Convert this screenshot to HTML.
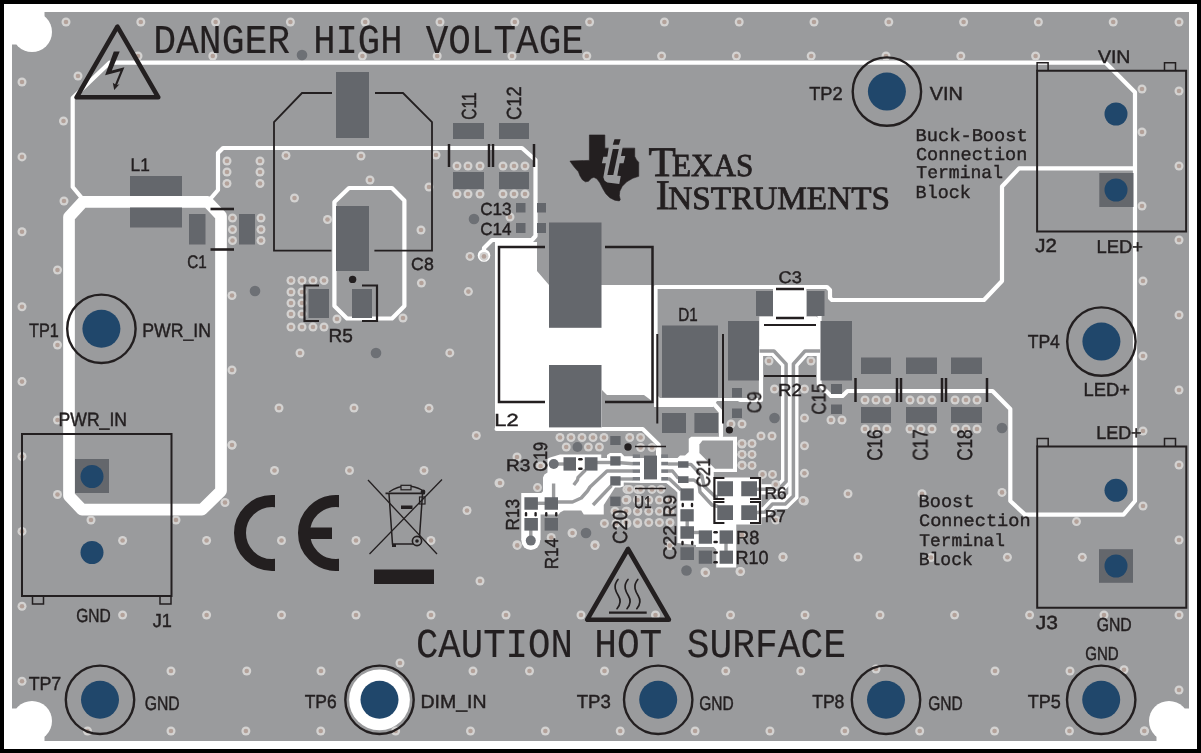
<!DOCTYPE html>
<html><head><meta charset="utf-8"><title>PCB layout</title>
<style>html,body{margin:0;padding:0;background:#fff;overflow:hidden}svg{display:block}text{will-change:opacity}</style>
</head><body>
<svg width="1201" height="753" viewBox="0 0 1201 753" text-rendering="geometricPrecision">
<rect x="0" y="0" width="1201" height="753" fill="#000"/>
<rect x="4" y="4" width="1193" height="745" fill="#fff"/>
<rect x="12" y="12" width="1177" height="729" fill="#9a9b9d"/>
<circle cx="32" cy="32" r="20" fill="#fff" stroke="none" stroke-width="0"/>
<circle cx="32" cy="721" r="20" fill="#fff" stroke="none" stroke-width="0"/>
<circle cx="1169" cy="721" r="20" fill="#fff" stroke="none" stroke-width="0"/>
<path d="M12 12 L44.5 12 L44.5 16.5 L16.5 44.5 L12 44.5 Z" fill="#fff" stroke="none" stroke-width="0" stroke-linejoin="miter" stroke-linecap="butt"/>
<path d="M12 741 L44.5 741 L44.5 736.5 L16.5 708.5 L12 708.5 Z" fill="#fff" stroke="none" stroke-width="0" stroke-linejoin="miter" stroke-linecap="butt"/>
<path d="M1189 741 L1156.5 741 L1156.5 736.5 L1184.5 708.5 L1189 708.5 Z" fill="#fff" stroke="none" stroke-width="0" stroke-linejoin="miter" stroke-linecap="butt"/>
<path d="M83 201.8 L207.5 201.8 L221 216 L221 491 L202 509.6 L82 509.6 L69 496 L69 217 Z" fill="none" stroke="#fff" stroke-width="11.7" stroke-linejoin="round" stroke-linecap="butt"/>
<path d="M81 197 L72.7 187 L72.7 98 L109.5 62.7 L1105.6 62.7 L1135 92.3 L1135 501 L1123.5 514.6 L1025 514.6 L1010.3 501 L1010.3 409 L992.5 391 L847.5 391 L842.5 396 L831 396 L824 389 L819.5 384 L819.5 316" fill="none" stroke="#fff" stroke-width="4.2" stroke-linejoin="round" stroke-linecap="round"/>
<path d="M1135 168.4 L1019 168.4 L1002 186.5 L1002 281 L984 300 L832 300 L830 298 L830 290 L827 287 L655.5 287 L655.5 402" fill="none" stroke="#fff" stroke-width="4.2" stroke-linejoin="round" stroke-linecap="round"/>
<path d="M212 197 L218 190 L218 153 L223 148 L522 148 L535.5 160 L535.5 236 L532 240 L492 240 L484 248 L484 255.5" fill="none" stroke="#fff" stroke-width="4.2" stroke-linejoin="round" stroke-linecap="round"/>
<circle cx="484" cy="255.5" r="6.3" fill="#fff" stroke="none" stroke-width="0"/>
<path d="M349 188 L392 188 L404.4 200.5 L404.4 306 L392 318.5 L347 318.5 L334.4 306 L334.4 202 Z" fill="none" stroke="#fff" stroke-width="4.2" stroke-linejoin="round" stroke-linecap="round"/>
<path d="M495 242 L537 242 L537 271 L549 285 L652 285 L652 401 L644 395 L607 395 L602 390 L602 429.5 L495 429.5 Z" fill="#fff" stroke="none" stroke-width="0" stroke-linejoin="miter" stroke-linecap="butt"/>
<path d="M496.5 429 L642.7 429 L658.8 444.7 L658.8 458" fill="none" stroke="#fff" stroke-width="4" stroke-linejoin="round" stroke-linecap="round"/>
<path d="M654 392 L660 398 L760 398 L760 401 L717 401 L713 407 L654 407 Z" fill="#fff" stroke="none" stroke-width="0" stroke-linejoin="miter" stroke-linecap="butt"/>
<path d="M714 404 L721 412 L721 436" fill="none" stroke="#fff" stroke-width="4.2" stroke-linejoin="round" stroke-linecap="round"/>
<path d="M773 288.5 L806.4 288.5 L806.4 316.6 L816.3 316.6 L820.3 320.6 L820.3 352 L759.25 352 L759.25 316.6 L773 316.6 Z" fill="#fff" stroke="none" stroke-width="0" stroke-linejoin="miter" stroke-linecap="butt"/>
<path d="M774 349 L805 349 L793 364.5 L786 364.5 Z" fill="#fff" stroke="none" stroke-width="0" stroke-linejoin="miter" stroke-linecap="butt"/>
<path d="M759.5 351 L774 351 L786.1 364 L786.1 481.5 L778.5 489.3 L757 489.3" fill="none" stroke="#fff" stroke-width="10.2" stroke-linejoin="miter" stroke-linecap="butt"/>
<path d="M820 351 L805 351 L793.4 364 L793.4 496 L785.3 504 L772.5 504 L765 512 L757 512.5" fill="none" stroke="#fff" stroke-width="10.2" stroke-linejoin="miter" stroke-linecap="butt"/>
<path d="M740 400 L761 400 L761 352" fill="none" stroke="#fff" stroke-width="4.2" stroke-linejoin="round" stroke-linecap="round"/>
<path d="M818.8 352 L818.8 384" fill="none" stroke="#fff" stroke-width="4.2" stroke-linejoin="round" stroke-linecap="round"/>
<path d="M550 457.5 L560 454.4 L601.25 454.4 L601.25 458 L607 458 L607 455 L610 453 L621.25 453 L624.4 456.25 L640.6 456.25 L643 458.75 L643.75 483 L623.75 482.5 L623.75 486.25 L620 487.5 L615 487.5 L603.75 505 L603.75 514.4 L583.75 514.4 L581.25 510.6 L563.75 510.6 L560 512.5 L558.75 514.4 L540.6 514.4 L540.6 540 L521.25 540 L521.25 493.1 L541.25 493.1 L543 491.25 L543 477.5 L544.4 474.4 L547.5 472.5 L547.5 458.75 Z" fill="#fff" stroke="none" stroke-width="0" stroke-linejoin="miter" stroke-linecap="butt"/>
<circle cx="530.8" cy="540.6" r="9.4" fill="#fff" stroke="none" stroke-width="0"/>
<rect x="640" y="447.5" width="21.25" height="35.5" fill="#fff"/>
<rect x="640" y="445" width="16" height="13" fill="#9a9b9d"/>
<path d="M661.25 458 L677.5 458 L680 455.6 L685 455.6 L688.75 452 L688.75 438.75 L691.25 436.75 L737 436.75 L737 472 L713.75 472 L713.75 477.5 L761.5 477.5 L761.5 524.4 L736.25 524.4 L736.25 567.5 L716.25 567.5 L716.25 549.4 L713.75 547 L696 547 L696 545 L677.4 543 L677.4 492.5 L675 490 L666.25 483 L657.25 483 Z" fill="#fff" stroke="none" stroke-width="0" stroke-linejoin="miter" stroke-linecap="butt"/>
<path d="M699.4 444.4 L702.5 440.6 L733 440.6 L733 468.75 L715 468.75 L699.4 453 Z" fill="#9a9b9d" stroke="none" stroke-width="0" stroke-linejoin="miter" stroke-linecap="butt"/>
<path d="M759.5 351 L774 351 L786.1 364 L786.1 481.5 L778.5 489.3 L757 489.3" fill="none" stroke="#9a9b9d" stroke-width="3.5" stroke-linejoin="round" stroke-linecap="butt"/>
<path d="M820 351 L805 351 L793.4 364 L793.4 496 L785.3 504 L772.5 504 L765 512 L757 512.5" fill="none" stroke="#9a9b9d" stroke-width="3.5" stroke-linejoin="round" stroke-linecap="butt"/>
<path d="M553 464 L564 464" fill="none" stroke="#9a9b9d" stroke-width="3.4" stroke-linejoin="round" stroke-linecap="butt"/>
<path d="M597 462.5 L611 462.5" fill="none" stroke="#9a9b9d" stroke-width="3.4" stroke-linejoin="round" stroke-linecap="butt"/>
<path d="M620 462.8 L633 463.8" fill="none" stroke="#9a9b9d" stroke-width="3.4" stroke-linejoin="round" stroke-linecap="butt"/>
<path d="M585.5 470 L578 477.5 L577.5 480 L573.75 485" fill="none" stroke="#9a9b9d" stroke-width="3.4" stroke-linejoin="round" stroke-linecap="butt"/>
<path d="M633 471 L607 471 L590 487 L587.5 491 L581.25 498 L572.5 502 L557 502" fill="none" stroke="#9a9b9d" stroke-width="3.4" stroke-linejoin="round" stroke-linecap="butt"/>
<path d="M620 479 L633 479" fill="none" stroke="#9a9b9d" stroke-width="3.4" stroke-linejoin="round" stroke-linecap="butt"/>
<path d="M611.5 485.5 L593 505" fill="none" stroke="#9a9b9d" stroke-width="3.4" stroke-linejoin="round" stroke-linecap="butt"/>
<path d="M553.6 483.5 L553.6 498" fill="none" stroke="#9a9b9d" stroke-width="3.4" stroke-linejoin="round" stroke-linecap="butt"/>
<path d="M537 503.3 L545 503.3" fill="none" stroke="#9a9b9d" stroke-width="3.4" stroke-linejoin="round" stroke-linecap="butt"/>
<path d="M530.8 530 L530.8 538" fill="none" stroke="#9a9b9d" stroke-width="3.4" stroke-linejoin="round" stroke-linecap="butt"/>
<path d="M668 464 L678 464" fill="none" stroke="#9a9b9d" stroke-width="3.4" stroke-linejoin="round" stroke-linecap="butt"/>
<path d="M668 471 L672.5 471 L678.5 478.5" fill="none" stroke="#9a9b9d" stroke-width="3.4" stroke-linejoin="round" stroke-linecap="butt"/>
<path d="M668 479 L669.5 479 L681 490" fill="none" stroke="#9a9b9d" stroke-width="3.4" stroke-linejoin="round" stroke-linecap="butt"/>
<path d="M688 464.4 L691 464.4 L702 476 L704 486 L715 496.5 L718 496.5" fill="none" stroke="#9a9b9d" stroke-width="3.4" stroke-linejoin="round" stroke-linecap="butt"/>
<path d="M688 480 L694 480 L699 484 L700 492 L712 505 L718 506.5" fill="none" stroke="#9a9b9d" stroke-width="3.4" stroke-linejoin="round" stroke-linecap="butt"/>
<path d="M687.2 521 L687.2 527" fill="none" stroke="#9a9b9d" stroke-width="3.4" stroke-linejoin="round" stroke-linecap="butt"/>
<path d="M693.5 532.5 L699 532.5" fill="none" stroke="#9a9b9d" stroke-width="3.4" stroke-linejoin="round" stroke-linecap="butt"/>
<path d="M726 543 L726 551" fill="none" stroke="#9a9b9d" stroke-width="3.4" stroke-linejoin="round" stroke-linecap="butt"/>
<circle cx="66" cy="22" r="4.5" fill="#d3d2d1" stroke="none" stroke-width="0"/>
<circle cx="66" cy="22" r="2.3" fill="#b3a199" stroke="none" stroke-width="0"/>
<circle cx="140.8" cy="22" r="4.5" fill="#d3d2d1" stroke="none" stroke-width="0"/>
<circle cx="140.8" cy="22" r="2.3" fill="#b3a199" stroke="none" stroke-width="0"/>
<circle cx="215.6" cy="22" r="4.5" fill="#d3d2d1" stroke="none" stroke-width="0"/>
<circle cx="215.6" cy="22" r="2.3" fill="#b3a199" stroke="none" stroke-width="0"/>
<circle cx="290.4" cy="22" r="4.5" fill="#d3d2d1" stroke="none" stroke-width="0"/>
<circle cx="290.4" cy="22" r="2.3" fill="#b3a199" stroke="none" stroke-width="0"/>
<circle cx="365.2" cy="22" r="4.5" fill="#d3d2d1" stroke="none" stroke-width="0"/>
<circle cx="365.2" cy="22" r="2.3" fill="#b3a199" stroke="none" stroke-width="0"/>
<circle cx="440" cy="22" r="4.5" fill="#d3d2d1" stroke="none" stroke-width="0"/>
<circle cx="440" cy="22" r="2.3" fill="#b3a199" stroke="none" stroke-width="0"/>
<circle cx="514.8" cy="22" r="4.5" fill="#d3d2d1" stroke="none" stroke-width="0"/>
<circle cx="514.8" cy="22" r="2.3" fill="#b3a199" stroke="none" stroke-width="0"/>
<circle cx="589.6" cy="22" r="4.5" fill="#d3d2d1" stroke="none" stroke-width="0"/>
<circle cx="589.6" cy="22" r="2.3" fill="#b3a199" stroke="none" stroke-width="0"/>
<circle cx="664.4" cy="22" r="4.5" fill="#d3d2d1" stroke="none" stroke-width="0"/>
<circle cx="664.4" cy="22" r="2.3" fill="#b3a199" stroke="none" stroke-width="0"/>
<circle cx="739.2" cy="22" r="4.5" fill="#d3d2d1" stroke="none" stroke-width="0"/>
<circle cx="739.2" cy="22" r="2.3" fill="#b3a199" stroke="none" stroke-width="0"/>
<circle cx="814" cy="22" r="4.5" fill="#d3d2d1" stroke="none" stroke-width="0"/>
<circle cx="814" cy="22" r="2.3" fill="#b3a199" stroke="none" stroke-width="0"/>
<circle cx="888.8" cy="22" r="4.5" fill="#d3d2d1" stroke="none" stroke-width="0"/>
<circle cx="888.8" cy="22" r="2.3" fill="#b3a199" stroke="none" stroke-width="0"/>
<circle cx="963.6" cy="22" r="4.5" fill="#d3d2d1" stroke="none" stroke-width="0"/>
<circle cx="963.6" cy="22" r="2.3" fill="#b3a199" stroke="none" stroke-width="0"/>
<circle cx="1038.4" cy="22" r="4.5" fill="#d3d2d1" stroke="none" stroke-width="0"/>
<circle cx="1038.4" cy="22" r="2.3" fill="#b3a199" stroke="none" stroke-width="0"/>
<circle cx="1113.2" cy="22" r="4.5" fill="#d3d2d1" stroke="none" stroke-width="0"/>
<circle cx="1113.2" cy="22" r="2.3" fill="#b3a199" stroke="none" stroke-width="0"/>
<circle cx="1179" cy="22" r="4.5" fill="#d3d2d1" stroke="none" stroke-width="0"/>
<circle cx="1179" cy="22" r="2.3" fill="#b3a199" stroke="none" stroke-width="0"/>
<circle cx="138" cy="56" r="4.5" fill="#d3d2d1" stroke="none" stroke-width="0"/>
<circle cx="138" cy="56" r="2.3" fill="#b3a199" stroke="none" stroke-width="0"/>
<circle cx="212.8" cy="56" r="4.5" fill="#d3d2d1" stroke="none" stroke-width="0"/>
<circle cx="212.8" cy="56" r="2.3" fill="#b3a199" stroke="none" stroke-width="0"/>
<circle cx="362.4" cy="56" r="4.5" fill="#d3d2d1" stroke="none" stroke-width="0"/>
<circle cx="362.4" cy="56" r="2.3" fill="#b3a199" stroke="none" stroke-width="0"/>
<circle cx="437.2" cy="56" r="4.5" fill="#d3d2d1" stroke="none" stroke-width="0"/>
<circle cx="437.2" cy="56" r="2.3" fill="#b3a199" stroke="none" stroke-width="0"/>
<circle cx="512" cy="56" r="4.5" fill="#d3d2d1" stroke="none" stroke-width="0"/>
<circle cx="512" cy="56" r="2.3" fill="#b3a199" stroke="none" stroke-width="0"/>
<circle cx="586.8" cy="56" r="4.5" fill="#d3d2d1" stroke="none" stroke-width="0"/>
<circle cx="586.8" cy="56" r="2.3" fill="#b3a199" stroke="none" stroke-width="0"/>
<circle cx="661.6" cy="56" r="4.5" fill="#d3d2d1" stroke="none" stroke-width="0"/>
<circle cx="661.6" cy="56" r="2.3" fill="#b3a199" stroke="none" stroke-width="0"/>
<circle cx="736.4" cy="56" r="4.5" fill="#d3d2d1" stroke="none" stroke-width="0"/>
<circle cx="736.4" cy="56" r="2.3" fill="#b3a199" stroke="none" stroke-width="0"/>
<circle cx="811.2" cy="56" r="4.5" fill="#d3d2d1" stroke="none" stroke-width="0"/>
<circle cx="811.2" cy="56" r="2.3" fill="#b3a199" stroke="none" stroke-width="0"/>
<circle cx="886" cy="56" r="4.5" fill="#d3d2d1" stroke="none" stroke-width="0"/>
<circle cx="886" cy="56" r="2.3" fill="#b3a199" stroke="none" stroke-width="0"/>
<circle cx="960.8" cy="56" r="4.5" fill="#d3d2d1" stroke="none" stroke-width="0"/>
<circle cx="960.8" cy="56" r="2.3" fill="#b3a199" stroke="none" stroke-width="0"/>
<circle cx="1035.6" cy="56" r="4.5" fill="#d3d2d1" stroke="none" stroke-width="0"/>
<circle cx="1035.6" cy="56" r="2.3" fill="#b3a199" stroke="none" stroke-width="0"/>
<circle cx="22" cy="82" r="4.5" fill="#d3d2d1" stroke="none" stroke-width="0"/>
<circle cx="22" cy="82" r="2.3" fill="#b3a199" stroke="none" stroke-width="0"/>
<circle cx="22" cy="156.9" r="4.5" fill="#d3d2d1" stroke="none" stroke-width="0"/>
<circle cx="22" cy="156.9" r="2.3" fill="#b3a199" stroke="none" stroke-width="0"/>
<circle cx="22" cy="231.8" r="4.5" fill="#d3d2d1" stroke="none" stroke-width="0"/>
<circle cx="22" cy="231.8" r="2.3" fill="#b3a199" stroke="none" stroke-width="0"/>
<circle cx="22" cy="306.7" r="4.5" fill="#d3d2d1" stroke="none" stroke-width="0"/>
<circle cx="22" cy="306.7" r="2.3" fill="#b3a199" stroke="none" stroke-width="0"/>
<circle cx="22" cy="381.6" r="4.5" fill="#d3d2d1" stroke="none" stroke-width="0"/>
<circle cx="22" cy="381.6" r="2.3" fill="#b3a199" stroke="none" stroke-width="0"/>
<circle cx="22" cy="456.5" r="4.5" fill="#d3d2d1" stroke="none" stroke-width="0"/>
<circle cx="22" cy="456.5" r="2.3" fill="#b3a199" stroke="none" stroke-width="0"/>
<circle cx="22" cy="531.4" r="4.5" fill="#d3d2d1" stroke="none" stroke-width="0"/>
<circle cx="22" cy="531.4" r="2.3" fill="#b3a199" stroke="none" stroke-width="0"/>
<circle cx="22" cy="606.3" r="4.5" fill="#d3d2d1" stroke="none" stroke-width="0"/>
<circle cx="22" cy="606.3" r="2.3" fill="#b3a199" stroke="none" stroke-width="0"/>
<circle cx="22" cy="681.2" r="4.5" fill="#d3d2d1" stroke="none" stroke-width="0"/>
<circle cx="22" cy="681.2" r="2.3" fill="#b3a199" stroke="none" stroke-width="0"/>
<circle cx="63.5" cy="121" r="4.5" fill="#d3d2d1" stroke="none" stroke-width="0"/>
<circle cx="63.5" cy="121" r="2.3" fill="#b3a199" stroke="none" stroke-width="0"/>
<circle cx="64" cy="201" r="4.5" fill="#d3d2d1" stroke="none" stroke-width="0"/>
<circle cx="64" cy="201" r="2.3" fill="#b3a199" stroke="none" stroke-width="0"/>
<circle cx="78" cy="76" r="4.5" fill="#d3d2d1" stroke="none" stroke-width="0"/>
<circle cx="78" cy="76" r="2.3" fill="#b3a199" stroke="none" stroke-width="0"/>
<circle cx="57.5" cy="270" r="4.5" fill="#d3d2d1" stroke="none" stroke-width="0"/>
<circle cx="57.5" cy="270" r="2.3" fill="#b3a199" stroke="none" stroke-width="0"/>
<circle cx="57.5" cy="345" r="4.5" fill="#d3d2d1" stroke="none" stroke-width="0"/>
<circle cx="57.5" cy="345" r="2.3" fill="#b3a199" stroke="none" stroke-width="0"/>
<circle cx="57.5" cy="420" r="4.5" fill="#d3d2d1" stroke="none" stroke-width="0"/>
<circle cx="57.5" cy="420" r="2.3" fill="#b3a199" stroke="none" stroke-width="0"/>
<circle cx="57.5" cy="494.5" r="4.5" fill="#d3d2d1" stroke="none" stroke-width="0"/>
<circle cx="57.5" cy="494.5" r="2.3" fill="#b3a199" stroke="none" stroke-width="0"/>
<circle cx="227" cy="161" r="4.5" fill="#d3d2d1" stroke="none" stroke-width="0"/>
<circle cx="227" cy="161" r="2.3" fill="#b3a199" stroke="none" stroke-width="0"/>
<circle cx="227" cy="172" r="4.5" fill="#d3d2d1" stroke="none" stroke-width="0"/>
<circle cx="227" cy="172" r="2.3" fill="#b3a199" stroke="none" stroke-width="0"/>
<circle cx="227" cy="183.5" r="4.5" fill="#d3d2d1" stroke="none" stroke-width="0"/>
<circle cx="227" cy="183.5" r="2.3" fill="#b3a199" stroke="none" stroke-width="0"/>
<circle cx="260" cy="161" r="4.5" fill="#d3d2d1" stroke="none" stroke-width="0"/>
<circle cx="260" cy="161" r="2.3" fill="#b3a199" stroke="none" stroke-width="0"/>
<circle cx="260" cy="172" r="4.5" fill="#d3d2d1" stroke="none" stroke-width="0"/>
<circle cx="260" cy="172" r="2.3" fill="#b3a199" stroke="none" stroke-width="0"/>
<circle cx="260" cy="183.5" r="4.5" fill="#d3d2d1" stroke="none" stroke-width="0"/>
<circle cx="260" cy="183.5" r="2.3" fill="#b3a199" stroke="none" stroke-width="0"/>
<circle cx="286" cy="155.5" r="4.5" fill="#d3d2d1" stroke="none" stroke-width="0"/>
<circle cx="286" cy="155.5" r="2.3" fill="#b3a199" stroke="none" stroke-width="0"/>
<circle cx="361" cy="156" r="4.5" fill="#d3d2d1" stroke="none" stroke-width="0"/>
<circle cx="361" cy="156" r="2.3" fill="#b3a199" stroke="none" stroke-width="0"/>
<circle cx="370" cy="180" r="4.5" fill="#d3d2d1" stroke="none" stroke-width="0"/>
<circle cx="370" cy="180" r="2.3" fill="#b3a199" stroke="none" stroke-width="0"/>
<circle cx="294.5" cy="198" r="4.5" fill="#d3d2d1" stroke="none" stroke-width="0"/>
<circle cx="294.5" cy="198" r="2.3" fill="#b3a199" stroke="none" stroke-width="0"/>
<circle cx="327.5" cy="219.5" r="4.5" fill="#d3d2d1" stroke="none" stroke-width="0"/>
<circle cx="327.5" cy="219.5" r="2.3" fill="#b3a199" stroke="none" stroke-width="0"/>
<circle cx="232.5" cy="218" r="4.5" fill="#d3d2d1" stroke="none" stroke-width="0"/>
<circle cx="232.5" cy="218" r="2.3" fill="#b3a199" stroke="none" stroke-width="0"/>
<circle cx="232.5" cy="229.5" r="4.5" fill="#d3d2d1" stroke="none" stroke-width="0"/>
<circle cx="232.5" cy="229.5" r="2.3" fill="#b3a199" stroke="none" stroke-width="0"/>
<circle cx="232.5" cy="240.5" r="4.5" fill="#d3d2d1" stroke="none" stroke-width="0"/>
<circle cx="232.5" cy="240.5" r="2.3" fill="#b3a199" stroke="none" stroke-width="0"/>
<circle cx="261" cy="218" r="4.5" fill="#d3d2d1" stroke="none" stroke-width="0"/>
<circle cx="261" cy="218" r="2.3" fill="#b3a199" stroke="none" stroke-width="0"/>
<circle cx="261" cy="229.5" r="4.5" fill="#d3d2d1" stroke="none" stroke-width="0"/>
<circle cx="261" cy="229.5" r="2.3" fill="#b3a199" stroke="none" stroke-width="0"/>
<circle cx="261" cy="240.5" r="4.5" fill="#d3d2d1" stroke="none" stroke-width="0"/>
<circle cx="261" cy="240.5" r="2.3" fill="#b3a199" stroke="none" stroke-width="0"/>
<circle cx="232" cy="295.5" r="4.5" fill="#d3d2d1" stroke="none" stroke-width="0"/>
<circle cx="232" cy="295.5" r="2.3" fill="#b3a199" stroke="none" stroke-width="0"/>
<circle cx="232" cy="370" r="4.5" fill="#d3d2d1" stroke="none" stroke-width="0"/>
<circle cx="232" cy="370" r="2.3" fill="#b3a199" stroke="none" stroke-width="0"/>
<circle cx="232" cy="445" r="4.5" fill="#d3d2d1" stroke="none" stroke-width="0"/>
<circle cx="232" cy="445" r="2.3" fill="#b3a199" stroke="none" stroke-width="0"/>
<circle cx="300" cy="353" r="4.5" fill="#d3d2d1" stroke="none" stroke-width="0"/>
<circle cx="300" cy="353" r="2.3" fill="#b3a199" stroke="none" stroke-width="0"/>
<circle cx="279" cy="408" r="4.5" fill="#d3d2d1" stroke="none" stroke-width="0"/>
<circle cx="279" cy="408" r="2.3" fill="#b3a199" stroke="none" stroke-width="0"/>
<circle cx="354" cy="408" r="4.5" fill="#d3d2d1" stroke="none" stroke-width="0"/>
<circle cx="354" cy="408" r="2.3" fill="#b3a199" stroke="none" stroke-width="0"/>
<circle cx="274.5" cy="470.5" r="4.5" fill="#d3d2d1" stroke="none" stroke-width="0"/>
<circle cx="274.5" cy="470.5" r="2.3" fill="#b3a199" stroke="none" stroke-width="0"/>
<circle cx="349.5" cy="470.5" r="4.5" fill="#d3d2d1" stroke="none" stroke-width="0"/>
<circle cx="349.5" cy="470.5" r="2.3" fill="#b3a199" stroke="none" stroke-width="0"/>
<circle cx="424" cy="470.5" r="4.5" fill="#d3d2d1" stroke="none" stroke-width="0"/>
<circle cx="424" cy="470.5" r="2.3" fill="#b3a199" stroke="none" stroke-width="0"/>
<circle cx="291" cy="280.5" r="4.5" fill="#d3d2d1" stroke="none" stroke-width="0"/>
<circle cx="291" cy="280.5" r="2.3" fill="#b3a199" stroke="none" stroke-width="0"/>
<circle cx="302" cy="280.5" r="4.5" fill="#d3d2d1" stroke="none" stroke-width="0"/>
<circle cx="302" cy="280.5" r="2.3" fill="#b3a199" stroke="none" stroke-width="0"/>
<circle cx="313" cy="280.5" r="4.5" fill="#d3d2d1" stroke="none" stroke-width="0"/>
<circle cx="313" cy="280.5" r="2.3" fill="#b3a199" stroke="none" stroke-width="0"/>
<circle cx="324" cy="280.5" r="4.5" fill="#d3d2d1" stroke="none" stroke-width="0"/>
<circle cx="324" cy="280.5" r="2.3" fill="#b3a199" stroke="none" stroke-width="0"/>
<circle cx="291" cy="292" r="4.5" fill="#d3d2d1" stroke="none" stroke-width="0"/>
<circle cx="291" cy="292" r="2.3" fill="#b3a199" stroke="none" stroke-width="0"/>
<circle cx="302" cy="292" r="4.5" fill="#d3d2d1" stroke="none" stroke-width="0"/>
<circle cx="302" cy="292" r="2.3" fill="#b3a199" stroke="none" stroke-width="0"/>
<circle cx="291" cy="303" r="4.5" fill="#d3d2d1" stroke="none" stroke-width="0"/>
<circle cx="291" cy="303" r="2.3" fill="#b3a199" stroke="none" stroke-width="0"/>
<circle cx="302" cy="303" r="4.5" fill="#d3d2d1" stroke="none" stroke-width="0"/>
<circle cx="302" cy="303" r="2.3" fill="#b3a199" stroke="none" stroke-width="0"/>
<circle cx="291" cy="314" r="4.5" fill="#d3d2d1" stroke="none" stroke-width="0"/>
<circle cx="291" cy="314" r="2.3" fill="#b3a199" stroke="none" stroke-width="0"/>
<circle cx="302" cy="314" r="4.5" fill="#d3d2d1" stroke="none" stroke-width="0"/>
<circle cx="302" cy="314" r="2.3" fill="#b3a199" stroke="none" stroke-width="0"/>
<circle cx="291" cy="327" r="4.5" fill="#d3d2d1" stroke="none" stroke-width="0"/>
<circle cx="291" cy="327" r="2.3" fill="#b3a199" stroke="none" stroke-width="0"/>
<circle cx="302" cy="327" r="4.5" fill="#d3d2d1" stroke="none" stroke-width="0"/>
<circle cx="302" cy="327" r="2.3" fill="#b3a199" stroke="none" stroke-width="0"/>
<circle cx="313" cy="327" r="4.5" fill="#d3d2d1" stroke="none" stroke-width="0"/>
<circle cx="313" cy="327" r="2.3" fill="#b3a199" stroke="none" stroke-width="0"/>
<circle cx="324" cy="327" r="4.5" fill="#d3d2d1" stroke="none" stroke-width="0"/>
<circle cx="324" cy="327" r="2.3" fill="#b3a199" stroke="none" stroke-width="0"/>
<circle cx="337" cy="319" r="4.5" fill="#d3d2d1" stroke="none" stroke-width="0"/>
<circle cx="337" cy="319" r="2.3" fill="#b3a199" stroke="none" stroke-width="0"/>
<circle cx="457" cy="166" r="4.5" fill="#d3d2d1" stroke="none" stroke-width="0"/>
<circle cx="457" cy="166" r="2.3" fill="#b3a199" stroke="none" stroke-width="0"/>
<circle cx="468" cy="166" r="4.5" fill="#d3d2d1" stroke="none" stroke-width="0"/>
<circle cx="468" cy="166" r="2.3" fill="#b3a199" stroke="none" stroke-width="0"/>
<circle cx="480" cy="166" r="4.5" fill="#d3d2d1" stroke="none" stroke-width="0"/>
<circle cx="480" cy="166" r="2.3" fill="#b3a199" stroke="none" stroke-width="0"/>
<circle cx="503" cy="166" r="4.5" fill="#d3d2d1" stroke="none" stroke-width="0"/>
<circle cx="503" cy="166" r="2.3" fill="#b3a199" stroke="none" stroke-width="0"/>
<circle cx="514" cy="166" r="4.5" fill="#d3d2d1" stroke="none" stroke-width="0"/>
<circle cx="514" cy="166" r="2.3" fill="#b3a199" stroke="none" stroke-width="0"/>
<circle cx="525" cy="166" r="4.5" fill="#d3d2d1" stroke="none" stroke-width="0"/>
<circle cx="525" cy="166" r="2.3" fill="#b3a199" stroke="none" stroke-width="0"/>
<circle cx="457" cy="194" r="4.5" fill="#d3d2d1" stroke="none" stroke-width="0"/>
<circle cx="457" cy="194" r="2.3" fill="#b3a199" stroke="none" stroke-width="0"/>
<circle cx="468" cy="194" r="4.5" fill="#d3d2d1" stroke="none" stroke-width="0"/>
<circle cx="468" cy="194" r="2.3" fill="#b3a199" stroke="none" stroke-width="0"/>
<circle cx="480" cy="194" r="4.5" fill="#d3d2d1" stroke="none" stroke-width="0"/>
<circle cx="480" cy="194" r="2.3" fill="#b3a199" stroke="none" stroke-width="0"/>
<circle cx="503" cy="194" r="4.5" fill="#d3d2d1" stroke="none" stroke-width="0"/>
<circle cx="503" cy="194" r="2.3" fill="#b3a199" stroke="none" stroke-width="0"/>
<circle cx="514" cy="194" r="4.5" fill="#d3d2d1" stroke="none" stroke-width="0"/>
<circle cx="514" cy="194" r="2.3" fill="#b3a199" stroke="none" stroke-width="0"/>
<circle cx="525" cy="194" r="4.5" fill="#d3d2d1" stroke="none" stroke-width="0"/>
<circle cx="525" cy="194" r="2.3" fill="#b3a199" stroke="none" stroke-width="0"/>
<circle cx="436" cy="155" r="4.5" fill="#d3d2d1" stroke="none" stroke-width="0"/>
<circle cx="436" cy="155" r="2.3" fill="#b3a199" stroke="none" stroke-width="0"/>
<circle cx="429" cy="187" r="4.5" fill="#d3d2d1" stroke="none" stroke-width="0"/>
<circle cx="429" cy="187" r="2.3" fill="#b3a199" stroke="none" stroke-width="0"/>
<circle cx="421" cy="230" r="4.5" fill="#d3d2d1" stroke="none" stroke-width="0"/>
<circle cx="421" cy="230" r="2.3" fill="#b3a199" stroke="none" stroke-width="0"/>
<circle cx="510" cy="217" r="4.5" fill="#d3d2d1" stroke="none" stroke-width="0"/>
<circle cx="510" cy="217" r="2.3" fill="#b3a199" stroke="none" stroke-width="0"/>
<circle cx="1142" cy="89" r="4.5" fill="#d3d2d1" stroke="none" stroke-width="0"/>
<circle cx="1142" cy="89" r="2.3" fill="#b3a199" stroke="none" stroke-width="0"/>
<circle cx="1179" cy="91" r="4.5" fill="#d3d2d1" stroke="none" stroke-width="0"/>
<circle cx="1179" cy="91" r="2.3" fill="#b3a199" stroke="none" stroke-width="0"/>
<circle cx="1142" cy="132" r="4.5" fill="#d3d2d1" stroke="none" stroke-width="0"/>
<circle cx="1142" cy="132" r="2.3" fill="#b3a199" stroke="none" stroke-width="0"/>
<circle cx="1179" cy="166" r="4.5" fill="#d3d2d1" stroke="none" stroke-width="0"/>
<circle cx="1179" cy="166" r="2.3" fill="#b3a199" stroke="none" stroke-width="0"/>
<circle cx="1142" cy="206" r="4.5" fill="#d3d2d1" stroke="none" stroke-width="0"/>
<circle cx="1142" cy="206" r="2.3" fill="#b3a199" stroke="none" stroke-width="0"/>
<circle cx="1179" cy="240" r="4.5" fill="#d3d2d1" stroke="none" stroke-width="0"/>
<circle cx="1179" cy="240" r="2.3" fill="#b3a199" stroke="none" stroke-width="0"/>
<circle cx="1143" cy="281" r="4.5" fill="#d3d2d1" stroke="none" stroke-width="0"/>
<circle cx="1143" cy="281" r="2.3" fill="#b3a199" stroke="none" stroke-width="0"/>
<circle cx="1179" cy="315" r="4.5" fill="#d3d2d1" stroke="none" stroke-width="0"/>
<circle cx="1179" cy="315" r="2.3" fill="#b3a199" stroke="none" stroke-width="0"/>
<circle cx="1143" cy="356" r="4.5" fill="#d3d2d1" stroke="none" stroke-width="0"/>
<circle cx="1143" cy="356" r="2.3" fill="#b3a199" stroke="none" stroke-width="0"/>
<circle cx="1179" cy="390" r="4.5" fill="#d3d2d1" stroke="none" stroke-width="0"/>
<circle cx="1179" cy="390" r="2.3" fill="#b3a199" stroke="none" stroke-width="0"/>
<circle cx="1143" cy="431" r="4.5" fill="#d3d2d1" stroke="none" stroke-width="0"/>
<circle cx="1143" cy="431" r="2.3" fill="#b3a199" stroke="none" stroke-width="0"/>
<circle cx="1179" cy="465" r="4.5" fill="#d3d2d1" stroke="none" stroke-width="0"/>
<circle cx="1179" cy="465" r="2.3" fill="#b3a199" stroke="none" stroke-width="0"/>
<circle cx="1143" cy="506" r="4.5" fill="#d3d2d1" stroke="none" stroke-width="0"/>
<circle cx="1143" cy="506" r="2.3" fill="#b3a199" stroke="none" stroke-width="0"/>
<circle cx="1179" cy="540" r="4.5" fill="#d3d2d1" stroke="none" stroke-width="0"/>
<circle cx="1179" cy="540" r="2.3" fill="#b3a199" stroke="none" stroke-width="0"/>
<circle cx="1179" cy="615" r="4.5" fill="#d3d2d1" stroke="none" stroke-width="0"/>
<circle cx="1179" cy="615" r="2.3" fill="#b3a199" stroke="none" stroke-width="0"/>
<circle cx="1179" cy="690" r="4.5" fill="#d3d2d1" stroke="none" stroke-width="0"/>
<circle cx="1179" cy="690" r="2.3" fill="#b3a199" stroke="none" stroke-width="0"/>
<circle cx="1144.5" cy="731" r="4.5" fill="#d3d2d1" stroke="none" stroke-width="0"/>
<circle cx="1144.5" cy="731" r="2.3" fill="#b3a199" stroke="none" stroke-width="0"/>
<circle cx="449.8" cy="352.9" r="4.5" fill="#d3d2d1" stroke="none" stroke-width="0"/>
<circle cx="449.8" cy="352.9" r="2.3" fill="#b3a199" stroke="none" stroke-width="0"/>
<circle cx="429" cy="408.2" r="4.5" fill="#d3d2d1" stroke="none" stroke-width="0"/>
<circle cx="429" cy="408.2" r="2.3" fill="#b3a199" stroke="none" stroke-width="0"/>
<circle cx="476.3" cy="435.5" r="4.5" fill="#d3d2d1" stroke="none" stroke-width="0"/>
<circle cx="476.3" cy="435.5" r="2.3" fill="#b3a199" stroke="none" stroke-width="0"/>
<circle cx="804.5" cy="445.75" r="4.5" fill="#d3d2d1" stroke="none" stroke-width="0"/>
<circle cx="804.5" cy="445.75" r="2.3" fill="#b3a199" stroke="none" stroke-width="0"/>
<circle cx="848" cy="493.75" r="4.5" fill="#d3d2d1" stroke="none" stroke-width="0"/>
<circle cx="848" cy="493.75" r="2.3" fill="#b3a199" stroke="none" stroke-width="0"/>
<circle cx="922" cy="493.75" r="4.5" fill="#d3d2d1" stroke="none" stroke-width="0"/>
<circle cx="922" cy="493.75" r="2.3" fill="#b3a199" stroke="none" stroke-width="0"/>
<circle cx="931" cy="557.5" r="4.5" fill="#d3d2d1" stroke="none" stroke-width="0"/>
<circle cx="931" cy="557.5" r="2.3" fill="#b3a199" stroke="none" stroke-width="0"/>
<circle cx="421.4" cy="283" r="4.5" fill="#d3d2d1" stroke="none" stroke-width="0"/>
<circle cx="421.4" cy="283" r="2.3" fill="#b3a199" stroke="none" stroke-width="0"/>
<circle cx="468.4" cy="291.6" r="4.5" fill="#d3d2d1" stroke="none" stroke-width="0"/>
<circle cx="468.4" cy="291.6" r="2.3" fill="#b3a199" stroke="none" stroke-width="0"/>
<circle cx="470" cy="256.4" r="4.5" fill="#d3d2d1" stroke="none" stroke-width="0"/>
<circle cx="470" cy="256.4" r="2.3" fill="#b3a199" stroke="none" stroke-width="0"/>
<circle cx="484" cy="256.4" r="4.5" fill="#d3d2d1" stroke="none" stroke-width="0"/>
<circle cx="484" cy="256.4" r="2.3" fill="#b3a199" stroke="none" stroke-width="0"/>
<circle cx="403" cy="318" r="4.5" fill="#d3d2d1" stroke="none" stroke-width="0"/>
<circle cx="403" cy="318" r="2.3" fill="#b3a199" stroke="none" stroke-width="0"/>
<circle cx="1076.5" cy="521.6" r="4.5" fill="#d3d2d1" stroke="none" stroke-width="0"/>
<circle cx="1076.5" cy="521.6" r="2.3" fill="#b3a199" stroke="none" stroke-width="0"/>
<circle cx="1082.3" cy="557.2" r="4.5" fill="#d3d2d1" stroke="none" stroke-width="0"/>
<circle cx="1082.3" cy="557.2" r="2.3" fill="#b3a199" stroke="none" stroke-width="0"/>
<circle cx="1007.4" cy="557.2" r="4.5" fill="#d3d2d1" stroke="none" stroke-width="0"/>
<circle cx="1007.4" cy="557.2" r="2.3" fill="#b3a199" stroke="none" stroke-width="0"/>
<circle cx="858" cy="557" r="4.5" fill="#d3d2d1" stroke="none" stroke-width="0"/>
<circle cx="858" cy="557" r="2.3" fill="#b3a199" stroke="none" stroke-width="0"/>
<circle cx="1002" cy="492.4" r="4.5" fill="#d3d2d1" stroke="none" stroke-width="0"/>
<circle cx="1002" cy="492.4" r="2.3" fill="#b3a199" stroke="none" stroke-width="0"/>
<circle cx="805" cy="615" r="4.5" fill="#d3d2d1" stroke="none" stroke-width="0"/>
<circle cx="805" cy="615" r="2.3" fill="#b3a199" stroke="none" stroke-width="0"/>
<circle cx="880" cy="615" r="4.5" fill="#d3d2d1" stroke="none" stroke-width="0"/>
<circle cx="880" cy="615" r="2.3" fill="#b3a199" stroke="none" stroke-width="0"/>
<circle cx="954.6" cy="615" r="4.5" fill="#d3d2d1" stroke="none" stroke-width="0"/>
<circle cx="954.6" cy="615" r="2.3" fill="#b3a199" stroke="none" stroke-width="0"/>
<circle cx="1029.6" cy="615" r="4.5" fill="#d3d2d1" stroke="none" stroke-width="0"/>
<circle cx="1029.6" cy="615" r="2.3" fill="#b3a199" stroke="none" stroke-width="0"/>
<circle cx="1104" cy="615" r="4.5" fill="#d3d2d1" stroke="none" stroke-width="0"/>
<circle cx="1104" cy="615" r="2.3" fill="#b3a199" stroke="none" stroke-width="0"/>
<circle cx="995" cy="671" r="4.5" fill="#d3d2d1" stroke="none" stroke-width="0"/>
<circle cx="995" cy="671" r="2.3" fill="#b3a199" stroke="none" stroke-width="0"/>
<circle cx="1070" cy="671" r="4.5" fill="#d3d2d1" stroke="none" stroke-width="0"/>
<circle cx="1070" cy="671" r="2.3" fill="#b3a199" stroke="none" stroke-width="0"/>
<circle cx="1124" cy="669.75" r="4.5" fill="#d3d2d1" stroke="none" stroke-width="0"/>
<circle cx="1124" cy="669.75" r="2.3" fill="#b3a199" stroke="none" stroke-width="0"/>
<circle cx="876" cy="669" r="4.5" fill="#d3d2d1" stroke="none" stroke-width="0"/>
<circle cx="876" cy="669" r="2.3" fill="#b3a199" stroke="none" stroke-width="0"/>
<circle cx="171" cy="731" r="4.5" fill="#d3d2d1" stroke="none" stroke-width="0"/>
<circle cx="171" cy="731" r="2.3" fill="#b3a199" stroke="none" stroke-width="0"/>
<circle cx="245.87" cy="731" r="4.5" fill="#d3d2d1" stroke="none" stroke-width="0"/>
<circle cx="245.87" cy="731" r="2.3" fill="#b3a199" stroke="none" stroke-width="0"/>
<circle cx="320.74" cy="731" r="4.5" fill="#d3d2d1" stroke="none" stroke-width="0"/>
<circle cx="320.74" cy="731" r="2.3" fill="#b3a199" stroke="none" stroke-width="0"/>
<circle cx="395.61" cy="731" r="4.5" fill="#d3d2d1" stroke="none" stroke-width="0"/>
<circle cx="395.61" cy="731" r="2.3" fill="#b3a199" stroke="none" stroke-width="0"/>
<circle cx="470.48" cy="731" r="4.5" fill="#d3d2d1" stroke="none" stroke-width="0"/>
<circle cx="470.48" cy="731" r="2.3" fill="#b3a199" stroke="none" stroke-width="0"/>
<circle cx="545.35" cy="731" r="4.5" fill="#d3d2d1" stroke="none" stroke-width="0"/>
<circle cx="545.35" cy="731" r="2.3" fill="#b3a199" stroke="none" stroke-width="0"/>
<circle cx="620.22" cy="731" r="4.5" fill="#d3d2d1" stroke="none" stroke-width="0"/>
<circle cx="620.22" cy="731" r="2.3" fill="#b3a199" stroke="none" stroke-width="0"/>
<circle cx="695.09" cy="731" r="4.5" fill="#d3d2d1" stroke="none" stroke-width="0"/>
<circle cx="695.09" cy="731" r="2.3" fill="#b3a199" stroke="none" stroke-width="0"/>
<circle cx="769.96" cy="731" r="4.5" fill="#d3d2d1" stroke="none" stroke-width="0"/>
<circle cx="769.96" cy="731" r="2.3" fill="#b3a199" stroke="none" stroke-width="0"/>
<circle cx="844.83" cy="731" r="4.5" fill="#d3d2d1" stroke="none" stroke-width="0"/>
<circle cx="844.83" cy="731" r="2.3" fill="#b3a199" stroke="none" stroke-width="0"/>
<circle cx="919.7" cy="731" r="4.5" fill="#d3d2d1" stroke="none" stroke-width="0"/>
<circle cx="919.7" cy="731" r="2.3" fill="#b3a199" stroke="none" stroke-width="0"/>
<circle cx="994.57" cy="731" r="4.5" fill="#d3d2d1" stroke="none" stroke-width="0"/>
<circle cx="994.57" cy="731" r="2.3" fill="#b3a199" stroke="none" stroke-width="0"/>
<circle cx="1069.44" cy="731" r="4.5" fill="#d3d2d1" stroke="none" stroke-width="0"/>
<circle cx="1069.44" cy="731" r="2.3" fill="#b3a199" stroke="none" stroke-width="0"/>
<circle cx="1144.31" cy="731" r="4.5" fill="#d3d2d1" stroke="none" stroke-width="0"/>
<circle cx="1144.31" cy="731" r="2.3" fill="#b3a199" stroke="none" stroke-width="0"/>
<circle cx="171" cy="671" r="4.5" fill="#d3d2d1" stroke="none" stroke-width="0"/>
<circle cx="171" cy="671" r="2.3" fill="#b3a199" stroke="none" stroke-width="0"/>
<circle cx="246.75" cy="671" r="4.5" fill="#d3d2d1" stroke="none" stroke-width="0"/>
<circle cx="246.75" cy="671" r="2.3" fill="#b3a199" stroke="none" stroke-width="0"/>
<circle cx="321" cy="671" r="4.5" fill="#d3d2d1" stroke="none" stroke-width="0"/>
<circle cx="321" cy="671" r="2.3" fill="#b3a199" stroke="none" stroke-width="0"/>
<circle cx="400" cy="663" r="4.5" fill="#d3d2d1" stroke="none" stroke-width="0"/>
<circle cx="400" cy="663" r="2.3" fill="#b3a199" stroke="none" stroke-width="0"/>
<circle cx="473" cy="671" r="4.5" fill="#d3d2d1" stroke="none" stroke-width="0"/>
<circle cx="473" cy="671" r="2.3" fill="#b3a199" stroke="none" stroke-width="0"/>
<circle cx="529.5" cy="671" r="4.5" fill="#d3d2d1" stroke="none" stroke-width="0"/>
<circle cx="529.5" cy="671" r="2.3" fill="#b3a199" stroke="none" stroke-width="0"/>
<circle cx="604.5" cy="671" r="4.5" fill="#d3d2d1" stroke="none" stroke-width="0"/>
<circle cx="604.5" cy="671" r="2.3" fill="#b3a199" stroke="none" stroke-width="0"/>
<circle cx="725.75" cy="671" r="4.5" fill="#d3d2d1" stroke="none" stroke-width="0"/>
<circle cx="725.75" cy="671" r="2.3" fill="#b3a199" stroke="none" stroke-width="0"/>
<circle cx="800.75" cy="671" r="4.5" fill="#d3d2d1" stroke="none" stroke-width="0"/>
<circle cx="800.75" cy="671" r="2.3" fill="#b3a199" stroke="none" stroke-width="0"/>
<circle cx="87.5" cy="731" r="4.5" fill="#d3d2d1" stroke="none" stroke-width="0"/>
<circle cx="87.5" cy="731" r="2.3" fill="#b3a199" stroke="none" stroke-width="0"/>
<circle cx="122.6" cy="615" r="4.5" fill="#d3d2d1" stroke="none" stroke-width="0"/>
<circle cx="122.6" cy="615" r="2.3" fill="#b3a199" stroke="none" stroke-width="0"/>
<circle cx="206.6" cy="615" r="4.5" fill="#d3d2d1" stroke="none" stroke-width="0"/>
<circle cx="206.6" cy="615" r="2.3" fill="#b3a199" stroke="none" stroke-width="0"/>
<circle cx="281.5" cy="615" r="4.5" fill="#d3d2d1" stroke="none" stroke-width="0"/>
<circle cx="281.5" cy="615" r="2.3" fill="#b3a199" stroke="none" stroke-width="0"/>
<circle cx="356" cy="615" r="4.5" fill="#d3d2d1" stroke="none" stroke-width="0"/>
<circle cx="356" cy="615" r="2.3" fill="#b3a199" stroke="none" stroke-width="0"/>
<circle cx="431" cy="615" r="4.5" fill="#d3d2d1" stroke="none" stroke-width="0"/>
<circle cx="431" cy="615" r="2.3" fill="#b3a199" stroke="none" stroke-width="0"/>
<circle cx="506" cy="615" r="4.5" fill="#d3d2d1" stroke="none" stroke-width="0"/>
<circle cx="506" cy="615" r="2.3" fill="#b3a199" stroke="none" stroke-width="0"/>
<circle cx="581" cy="615" r="4.5" fill="#d3d2d1" stroke="none" stroke-width="0"/>
<circle cx="581" cy="615" r="2.3" fill="#b3a199" stroke="none" stroke-width="0"/>
<circle cx="655.5" cy="615" r="4.5" fill="#d3d2d1" stroke="none" stroke-width="0"/>
<circle cx="655.5" cy="615" r="2.3" fill="#b3a199" stroke="none" stroke-width="0"/>
<circle cx="730.5" cy="615" r="4.5" fill="#d3d2d1" stroke="none" stroke-width="0"/>
<circle cx="730.5" cy="615" r="2.3" fill="#b3a199" stroke="none" stroke-width="0"/>
<circle cx="122.6" cy="540.5" r="4.5" fill="#d3d2d1" stroke="none" stroke-width="0"/>
<circle cx="122.6" cy="540.5" r="2.3" fill="#b3a199" stroke="none" stroke-width="0"/>
<circle cx="206.6" cy="540.5" r="4.5" fill="#d3d2d1" stroke="none" stroke-width="0"/>
<circle cx="206.6" cy="540.5" r="2.3" fill="#b3a199" stroke="none" stroke-width="0"/>
<circle cx="281.5" cy="540.5" r="4.5" fill="#d3d2d1" stroke="none" stroke-width="0"/>
<circle cx="281.5" cy="540.5" r="2.3" fill="#b3a199" stroke="none" stroke-width="0"/>
<circle cx="356" cy="540.5" r="4.5" fill="#d3d2d1" stroke="none" stroke-width="0"/>
<circle cx="356" cy="540.5" r="2.3" fill="#b3a199" stroke="none" stroke-width="0"/>
<circle cx="431" cy="540.5" r="4.5" fill="#d3d2d1" stroke="none" stroke-width="0"/>
<circle cx="431" cy="540.5" r="2.3" fill="#b3a199" stroke="none" stroke-width="0"/>
<circle cx="91" cy="520" r="4.5" fill="#d3d2d1" stroke="none" stroke-width="0"/>
<circle cx="91" cy="520" r="2.3" fill="#b3a199" stroke="none" stroke-width="0"/>
<circle cx="176" cy="520" r="4.5" fill="#d3d2d1" stroke="none" stroke-width="0"/>
<circle cx="176" cy="520" r="2.3" fill="#b3a199" stroke="none" stroke-width="0"/>
<circle cx="225" cy="502.5" r="4.5" fill="#d3d2d1" stroke="none" stroke-width="0"/>
<circle cx="225" cy="502.5" r="2.3" fill="#b3a199" stroke="none" stroke-width="0"/>
<circle cx="232" cy="445" r="4.5" fill="#d3d2d1" stroke="none" stroke-width="0"/>
<circle cx="232" cy="445" r="2.3" fill="#b3a199" stroke="none" stroke-width="0"/>
<circle cx="467" cy="510.5" r="4.5" fill="#d3d2d1" stroke="none" stroke-width="0"/>
<circle cx="467" cy="510.5" r="2.3" fill="#b3a199" stroke="none" stroke-width="0"/>
<circle cx="499" cy="483" r="4.5" fill="#d3d2d1" stroke="none" stroke-width="0"/>
<circle cx="499" cy="483" r="2.3" fill="#b3a199" stroke="none" stroke-width="0"/>
<circle cx="480" cy="581" r="4.5" fill="#d3d2d1" stroke="none" stroke-width="0"/>
<circle cx="480" cy="581" r="2.3" fill="#b3a199" stroke="none" stroke-width="0"/>
<circle cx="517" cy="544.7" r="4.5" fill="#d3d2d1" stroke="none" stroke-width="0"/>
<circle cx="517" cy="544.7" r="2.3" fill="#b3a199" stroke="none" stroke-width="0"/>
<circle cx="572" cy="533" r="4.5" fill="#d3d2d1" stroke="none" stroke-width="0"/>
<circle cx="572" cy="533" r="2.3" fill="#b3a199" stroke="none" stroke-width="0"/>
<circle cx="595" cy="544.7" r="4.5" fill="#d3d2d1" stroke="none" stroke-width="0"/>
<circle cx="595" cy="544.7" r="2.3" fill="#b3a199" stroke="none" stroke-width="0"/>
<circle cx="783" cy="557" r="4.5" fill="#d3d2d1" stroke="none" stroke-width="0"/>
<circle cx="783" cy="557" r="2.3" fill="#b3a199" stroke="none" stroke-width="0"/>
<circle cx="705" cy="572" r="4.5" fill="#d3d2d1" stroke="none" stroke-width="0"/>
<circle cx="705" cy="572" r="2.3" fill="#b3a199" stroke="none" stroke-width="0"/>
<circle cx="740" cy="571.5" r="4.5" fill="#d3d2d1" stroke="none" stroke-width="0"/>
<circle cx="740" cy="571.5" r="2.3" fill="#b3a199" stroke="none" stroke-width="0"/>
<circle cx="865" cy="400" r="4.5" fill="#d3d2d1" stroke="none" stroke-width="0"/>
<circle cx="865" cy="400" r="2.3" fill="#b3a199" stroke="none" stroke-width="0"/>
<circle cx="865" cy="429" r="4.5" fill="#d3d2d1" stroke="none" stroke-width="0"/>
<circle cx="865" cy="429" r="2.3" fill="#b3a199" stroke="none" stroke-width="0"/>
<circle cx="876" cy="400" r="4.5" fill="#d3d2d1" stroke="none" stroke-width="0"/>
<circle cx="876" cy="400" r="2.3" fill="#b3a199" stroke="none" stroke-width="0"/>
<circle cx="876" cy="429" r="4.5" fill="#d3d2d1" stroke="none" stroke-width="0"/>
<circle cx="876" cy="429" r="2.3" fill="#b3a199" stroke="none" stroke-width="0"/>
<circle cx="887" cy="400" r="4.5" fill="#d3d2d1" stroke="none" stroke-width="0"/>
<circle cx="887" cy="400" r="2.3" fill="#b3a199" stroke="none" stroke-width="0"/>
<circle cx="887" cy="429" r="4.5" fill="#d3d2d1" stroke="none" stroke-width="0"/>
<circle cx="887" cy="429" r="2.3" fill="#b3a199" stroke="none" stroke-width="0"/>
<circle cx="910" cy="400" r="4.5" fill="#d3d2d1" stroke="none" stroke-width="0"/>
<circle cx="910" cy="400" r="2.3" fill="#b3a199" stroke="none" stroke-width="0"/>
<circle cx="910" cy="429" r="4.5" fill="#d3d2d1" stroke="none" stroke-width="0"/>
<circle cx="910" cy="429" r="2.3" fill="#b3a199" stroke="none" stroke-width="0"/>
<circle cx="921" cy="400" r="4.5" fill="#d3d2d1" stroke="none" stroke-width="0"/>
<circle cx="921" cy="400" r="2.3" fill="#b3a199" stroke="none" stroke-width="0"/>
<circle cx="921" cy="429" r="4.5" fill="#d3d2d1" stroke="none" stroke-width="0"/>
<circle cx="921" cy="429" r="2.3" fill="#b3a199" stroke="none" stroke-width="0"/>
<circle cx="932" cy="400" r="4.5" fill="#d3d2d1" stroke="none" stroke-width="0"/>
<circle cx="932" cy="400" r="2.3" fill="#b3a199" stroke="none" stroke-width="0"/>
<circle cx="932" cy="429" r="4.5" fill="#d3d2d1" stroke="none" stroke-width="0"/>
<circle cx="932" cy="429" r="2.3" fill="#b3a199" stroke="none" stroke-width="0"/>
<circle cx="955" cy="400" r="4.5" fill="#d3d2d1" stroke="none" stroke-width="0"/>
<circle cx="955" cy="400" r="2.3" fill="#b3a199" stroke="none" stroke-width="0"/>
<circle cx="955" cy="429" r="4.5" fill="#d3d2d1" stroke="none" stroke-width="0"/>
<circle cx="955" cy="429" r="2.3" fill="#b3a199" stroke="none" stroke-width="0"/>
<circle cx="966" cy="400" r="4.5" fill="#d3d2d1" stroke="none" stroke-width="0"/>
<circle cx="966" cy="400" r="2.3" fill="#b3a199" stroke="none" stroke-width="0"/>
<circle cx="966" cy="429" r="4.5" fill="#d3d2d1" stroke="none" stroke-width="0"/>
<circle cx="966" cy="429" r="2.3" fill="#b3a199" stroke="none" stroke-width="0"/>
<circle cx="977" cy="400" r="4.5" fill="#d3d2d1" stroke="none" stroke-width="0"/>
<circle cx="977" cy="400" r="2.3" fill="#b3a199" stroke="none" stroke-width="0"/>
<circle cx="977" cy="429" r="4.5" fill="#d3d2d1" stroke="none" stroke-width="0"/>
<circle cx="977" cy="429" r="2.3" fill="#b3a199" stroke="none" stroke-width="0"/>
<circle cx="769" cy="361" r="4.5" fill="#d3d2d1" stroke="none" stroke-width="0"/>
<circle cx="769" cy="361" r="2.3" fill="#b3a199" stroke="none" stroke-width="0"/>
<circle cx="811" cy="361" r="4.5" fill="#d3d2d1" stroke="none" stroke-width="0"/>
<circle cx="811" cy="361" r="2.3" fill="#b3a199" stroke="none" stroke-width="0"/>
<circle cx="774.5" cy="389" r="4.5" fill="#d3d2d1" stroke="none" stroke-width="0"/>
<circle cx="774.5" cy="389" r="2.3" fill="#b3a199" stroke="none" stroke-width="0"/>
<circle cx="804.5" cy="389" r="4.5" fill="#d3d2d1" stroke="none" stroke-width="0"/>
<circle cx="804.5" cy="389" r="2.3" fill="#b3a199" stroke="none" stroke-width="0"/>
<circle cx="804.5" cy="418" r="4.5" fill="#d3d2d1" stroke="none" stroke-width="0"/>
<circle cx="804.5" cy="418" r="2.3" fill="#b3a199" stroke="none" stroke-width="0"/>
<circle cx="831" cy="420" r="4.5" fill="#d3d2d1" stroke="none" stroke-width="0"/>
<circle cx="831" cy="420" r="2.3" fill="#b3a199" stroke="none" stroke-width="0"/>
<circle cx="842" cy="420" r="4.5" fill="#d3d2d1" stroke="none" stroke-width="0"/>
<circle cx="842" cy="420" r="2.3" fill="#b3a199" stroke="none" stroke-width="0"/>
<circle cx="731" cy="424" r="4.5" fill="#d3d2d1" stroke="none" stroke-width="0"/>
<circle cx="731" cy="424" r="2.3" fill="#b3a199" stroke="none" stroke-width="0"/>
<circle cx="742" cy="424" r="4.5" fill="#d3d2d1" stroke="none" stroke-width="0"/>
<circle cx="742" cy="424" r="2.3" fill="#b3a199" stroke="none" stroke-width="0"/>
<circle cx="742" cy="444" r="4.5" fill="#d3d2d1" stroke="none" stroke-width="0"/>
<circle cx="742" cy="444" r="2.3" fill="#b3a199" stroke="none" stroke-width="0"/>
<circle cx="742" cy="454.4" r="4.5" fill="#d3d2d1" stroke="none" stroke-width="0"/>
<circle cx="742" cy="454.4" r="2.3" fill="#b3a199" stroke="none" stroke-width="0"/>
<circle cx="742" cy="465" r="4.5" fill="#d3d2d1" stroke="none" stroke-width="0"/>
<circle cx="742" cy="465" r="2.3" fill="#b3a199" stroke="none" stroke-width="0"/>
<circle cx="302" cy="55" r="5.3" fill="#6d7075" stroke="none" stroke-width="0"/>
<circle cx="474" cy="219" r="5.3" fill="#6d7075" stroke="none" stroke-width="0"/>
<circle cx="255" cy="291" r="5.3" fill="#6d7075" stroke="none" stroke-width="0"/>
<circle cx="376" cy="353" r="5.3" fill="#6d7075" stroke="none" stroke-width="0"/>
<circle cx="774.5" cy="418" r="5.3" fill="#6d7075" stroke="none" stroke-width="0"/>
<circle cx="1002" cy="428" r="5.3" fill="#6d7075" stroke="none" stroke-width="0"/>
<circle cx="586" cy="533" r="5.3" fill="#6d7075" stroke="none" stroke-width="0"/>
<circle cx="686.5" cy="570.5" r="5.3" fill="#6d7075" stroke="none" stroke-width="0"/>
<rect x="130" y="176" width="52" height="20" fill="#64676c"/>
<rect x="130" y="207.5" width="52" height="20" fill="#64676c"/>
<rect x="189" y="214" width="16.5" height="30.5" fill="#64676c"/>
<rect x="239" y="214" width="16" height="30.5" fill="#64676c"/>
<rect x="336" y="72" width="33" height="66" fill="#64676c"/>
<rect x="336" y="206" width="33" height="65" fill="#64676c"/>
<rect x="308.5" y="289" width="20.5" height="29" fill="#64676c"/>
<rect x="352" y="289" width="20" height="29" fill="#64676c"/>
<rect x="453" y="123" width="31" height="16" fill="#64676c"/>
<rect x="453" y="172" width="31" height="17" fill="#64676c"/>
<rect x="499" y="123" width="30" height="16" fill="#64676c"/>
<rect x="499" y="172" width="30" height="17" fill="#64676c"/>
<rect x="516" y="203" width="9.5" height="9.5" fill="#64676c"/>
<rect x="537" y="203" width="9" height="9.5" fill="#64676c"/>
<rect x="516" y="223" width="9.5" height="10" fill="#64676c"/>
<rect x="537" y="223" width="9" height="10" fill="#64676c"/>
<rect x="549" y="222.5" width="52.5" height="105.3" fill="#64676c"/>
<rect x="549" y="365" width="52.5" height="62.4" fill="#64676c"/>
<rect x="662" y="325.5" width="56" height="72" fill="#64676c"/>
<rect x="728" y="321" width="31" height="59.5" fill="#64676c"/>
<rect x="820.5" y="321" width="31.5" height="59.5" fill="#64676c"/>
<rect x="756" y="291" width="17" height="25" fill="#64676c"/>
<rect x="807" y="291" width="17.5" height="25" fill="#64676c"/>
<rect x="662" y="413" width="24" height="20" fill="#64676c"/>
<rect x="694.4" y="413" width="23.6" height="20" fill="#64676c"/>
<rect x="732" y="388" width="10" height="9.5" fill="#64676c"/>
<rect x="732" y="408.5" width="10" height="9.5" fill="#64676c"/>
<rect x="831" y="384" width="11" height="10" fill="#64676c"/>
<rect x="831" y="404.5" width="11" height="9.5" fill="#64676c"/>
<rect x="861" y="357.5" width="30" height="16.5" fill="#64676c"/>
<rect x="906" y="357.5" width="31" height="16.5" fill="#64676c"/>
<rect x="951" y="357.5" width="31" height="16.5" fill="#64676c"/>
<rect x="861" y="407" width="30" height="16" fill="#64676c"/>
<rect x="906" y="407" width="31" height="16" fill="#64676c"/>
<rect x="951" y="407" width="31" height="16" fill="#64676c"/>
<rect x="75" y="459" width="34" height="34" fill="#64676c"/>
<rect x="1099.3" y="173" width="34.2" height="34" fill="#64676c"/>
<rect x="1099" y="549.2" width="34" height="33.6" fill="#64676c"/>
<circle cx="92" cy="476.5" r="11.5" fill="#20476b" stroke="none" stroke-width="0"/>
<circle cx="92" cy="552.5" r="11.5" fill="#20476b" stroke="none" stroke-width="0"/>
<circle cx="1116" cy="114" r="11.5" fill="#20476b" stroke="none" stroke-width="0"/>
<circle cx="1116" cy="190" r="11.5" fill="#20476b" stroke="none" stroke-width="0"/>
<circle cx="1116" cy="490.3" r="11.5" fill="#20476b" stroke="none" stroke-width="0"/>
<circle cx="1116" cy="566" r="11.5" fill="#20476b" stroke="none" stroke-width="0"/>
<circle cx="886.9" cy="91.6" r="34.2" fill="none" stroke="#231f20" stroke-width="2.4"/>
<circle cx="886.9" cy="91.6" r="19" fill="#20476b" stroke="none" stroke-width="0"/>
<circle cx="101.4" cy="328.8" r="34.2" fill="none" stroke="#231f20" stroke-width="2.4"/>
<circle cx="101.4" cy="328.8" r="19" fill="#20476b" stroke="none" stroke-width="0"/>
<circle cx="1101.4" cy="341.6" r="34.2" fill="none" stroke="#231f20" stroke-width="2.4"/>
<circle cx="1101.4" cy="341.6" r="19" fill="#20476b" stroke="none" stroke-width="0"/>
<circle cx="100" cy="699.8" r="34.2" fill="none" stroke="#231f20" stroke-width="2.4"/>
<circle cx="100" cy="699.8" r="19" fill="#20476b" stroke="none" stroke-width="0"/>
<circle cx="379.5" cy="699.8" r="30.4" fill="#fff" stroke="none" stroke-width="0"/>
<circle cx="379.5" cy="699.8" r="34.2" fill="none" stroke="#231f20" stroke-width="2.4"/>
<circle cx="379.5" cy="699.8" r="19" fill="#20476b" stroke="none" stroke-width="0"/>
<circle cx="658.2" cy="699.8" r="34.2" fill="none" stroke="#231f20" stroke-width="2.4"/>
<circle cx="658.2" cy="699.8" r="19" fill="#20476b" stroke="none" stroke-width="0"/>
<circle cx="886" cy="699.8" r="34.2" fill="none" stroke="#231f20" stroke-width="2.4"/>
<circle cx="886" cy="699.8" r="19" fill="#20476b" stroke="none" stroke-width="0"/>
<circle cx="1101.2" cy="699.8" r="34.2" fill="none" stroke="#231f20" stroke-width="2.4"/>
<circle cx="1101.2" cy="699.8" r="19" fill="#20476b" stroke="none" stroke-width="0"/>
<path d="M332 93 L302 93 L274 122 L274 250.6 L331.4 250.6" fill="none" stroke="#231f20" stroke-width="1.8" stroke-linejoin="miter" stroke-linecap="butt"/>
<path d="M375 93 L403 93 L432 122 L432 250.6 L374.4 250.6" fill="none" stroke="#231f20" stroke-width="1.8" stroke-linejoin="miter" stroke-linecap="butt"/>
<path d="M210.5 209 L234 209" fill="none" stroke="#231f20" stroke-width="2.6" stroke-linejoin="miter" stroke-linecap="butt"/>
<path d="M210.5 249.5 L234 249.5" fill="none" stroke="#231f20" stroke-width="2.6" stroke-linejoin="miter" stroke-linecap="butt"/>
<path d="M319 285.5 L304.5 285.5 L304.5 321 L319 321" fill="none" stroke="#231f20" stroke-width="2.2" stroke-linejoin="miter" stroke-linecap="butt"/>
<path d="M362 285.5 L377 285.5 L377 321 L362 321" fill="none" stroke="#231f20" stroke-width="2.2" stroke-linejoin="miter" stroke-linecap="butt"/>
<circle cx="352.6" cy="279.4" r="3.7" fill="#231f20" stroke="none" stroke-width="0"/>
<path d="M449 144 L449 167" fill="none" stroke="#231f20" stroke-width="2.5" stroke-linejoin="miter" stroke-linecap="butt"/>
<path d="M489 144 L489 167" fill="none" stroke="#231f20" stroke-width="2.5" stroke-linejoin="miter" stroke-linecap="butt"/>
<path d="M493 144 L493 167" fill="none" stroke="#231f20" stroke-width="2.5" stroke-linejoin="miter" stroke-linecap="butt"/>
<path d="M534 144 L534 167" fill="none" stroke="#231f20" stroke-width="2.5" stroke-linejoin="miter" stroke-linecap="butt"/>
<path d="M855.5 378 L855.5 402" fill="none" stroke="#231f20" stroke-width="2.5" stroke-linejoin="miter" stroke-linecap="butt"/>
<path d="M897 378 L897 402" fill="none" stroke="#231f20" stroke-width="2.5" stroke-linejoin="miter" stroke-linecap="butt"/>
<path d="M901 378 L901 402" fill="none" stroke="#231f20" stroke-width="2.5" stroke-linejoin="miter" stroke-linecap="butt"/>
<path d="M942 378 L942 402" fill="none" stroke="#231f20" stroke-width="2.5" stroke-linejoin="miter" stroke-linecap="butt"/>
<path d="M946 378 L946 402" fill="none" stroke="#231f20" stroke-width="2.5" stroke-linejoin="miter" stroke-linecap="butt"/>
<path d="M987 378 L987 402" fill="none" stroke="#231f20" stroke-width="2.5" stroke-linejoin="miter" stroke-linecap="butt"/>
<path d="M545 247 L499 247 L499 402 L545 402" fill="none" stroke="#231f20" stroke-width="2.5" stroke-linejoin="miter" stroke-linecap="butt"/>
<path d="M605 247 L652.5 247 L652.5 402 L605 402" fill="none" stroke="#231f20" stroke-width="2.5" stroke-linejoin="miter" stroke-linecap="butt"/>
<path d="M657.3 334 L657.3 423.5" fill="none" stroke="#231f20" stroke-width="2" stroke-linejoin="miter" stroke-linecap="butt"/>
<path d="M723 334 L723 423.5" fill="none" stroke="#231f20" stroke-width="2" stroke-linejoin="miter" stroke-linecap="butt"/>
<circle cx="729.4" cy="430" r="3.6" fill="#231f20" stroke="none" stroke-width="0"/>
<path d="M776 289 L804 289" fill="none" stroke="#231f20" stroke-width="2.5" stroke-linejoin="miter" stroke-linecap="butt"/>
<path d="M776 318 L804 318" fill="none" stroke="#231f20" stroke-width="2.5" stroke-linejoin="miter" stroke-linecap="butt"/>
<path d="M764 325 L816 325" fill="none" stroke="#231f20" stroke-width="2" stroke-linejoin="miter" stroke-linecap="butt"/>
<path d="M764 376 L816 376" fill="none" stroke="#231f20" stroke-width="2" stroke-linejoin="miter" stroke-linecap="butt"/>
<path d="M22 434 L171.5 434 L171.5 596 L22 596 Z" fill="none" stroke="#231f20" stroke-width="2" stroke-linejoin="miter" stroke-linecap="butt"/>
<path d="M32.5 596 L32.5 604 L43.5 604 L43.5 596" fill="none" stroke="#231f20" stroke-width="1.5" stroke-linejoin="miter" stroke-linecap="butt"/>
<path d="M160 596 L160 604 L171 604 L171 596" fill="none" stroke="#231f20" stroke-width="1.5" stroke-linejoin="miter" stroke-linecap="butt"/>
<path d="M1037.1 70.7 L1186.1 70.7 L1186.1 231.4 L1037.1 231.4 Z" fill="none" stroke="#231f20" stroke-width="2" stroke-linejoin="miter" stroke-linecap="butt"/>
<path d="M1037.1 70.7 L1037.1 62.7 L1048.1 62.7 L1048.1 70.7" fill="none" stroke="#231f20" stroke-width="1.5" stroke-linejoin="miter" stroke-linecap="butt"/>
<path d="M1164.5 70.7 L1164.5 62.7 L1175.5 62.7 L1175.5 70.7" fill="none" stroke="#231f20" stroke-width="1.5" stroke-linejoin="miter" stroke-linecap="butt"/>
<path d="M1037.2 446.5 L1186.3 446.5 L1186.3 607.7 L1037.2 607.7 Z" fill="none" stroke="#231f20" stroke-width="2" stroke-linejoin="miter" stroke-linecap="butt"/>
<path d="M1037.2 446.5 L1037.2 438.5 L1048.2 438.5 L1048.2 446.5" fill="none" stroke="#231f20" stroke-width="1.5" stroke-linejoin="miter" stroke-linecap="butt"/>
<path d="M1164.5 446.5 L1164.5 438.5 L1175.5 438.5 L1175.5 446.5" fill="none" stroke="#231f20" stroke-width="1.5" stroke-linejoin="miter" stroke-linecap="butt"/>
<circle cx="560" cy="437.5" r="4.5" fill="#d3d2d1" stroke="none" stroke-width="0"/>
<circle cx="560" cy="437.5" r="2.3" fill="#b3a199" stroke="none" stroke-width="0"/>
<circle cx="571" cy="437.5" r="4.5" fill="#d3d2d1" stroke="none" stroke-width="0"/>
<circle cx="571" cy="437.5" r="2.3" fill="#b3a199" stroke="none" stroke-width="0"/>
<circle cx="582" cy="437.5" r="4.5" fill="#d3d2d1" stroke="none" stroke-width="0"/>
<circle cx="582" cy="437.5" r="2.3" fill="#b3a199" stroke="none" stroke-width="0"/>
<circle cx="593" cy="437.5" r="4.5" fill="#d3d2d1" stroke="none" stroke-width="0"/>
<circle cx="593" cy="437.5" r="2.3" fill="#b3a199" stroke="none" stroke-width="0"/>
<circle cx="604" cy="437.5" r="4.5" fill="#d3d2d1" stroke="none" stroke-width="0"/>
<circle cx="604" cy="437.5" r="2.3" fill="#b3a199" stroke="none" stroke-width="0"/>
<circle cx="629.75" cy="437.5" r="4.5" fill="#d3d2d1" stroke="none" stroke-width="0"/>
<circle cx="629.75" cy="437.5" r="2.3" fill="#b3a199" stroke="none" stroke-width="0"/>
<circle cx="640.6" cy="437.5" r="4.5" fill="#d3d2d1" stroke="none" stroke-width="0"/>
<circle cx="640.6" cy="437.5" r="2.3" fill="#b3a199" stroke="none" stroke-width="0"/>
<circle cx="566.25" cy="447" r="4.5" fill="#d3d2d1" stroke="none" stroke-width="0"/>
<circle cx="566.25" cy="447" r="2.3" fill="#b3a199" stroke="none" stroke-width="0"/>
<circle cx="588.4" cy="447" r="4.5" fill="#d3d2d1" stroke="none" stroke-width="0"/>
<circle cx="588.4" cy="447" r="2.3" fill="#b3a199" stroke="none" stroke-width="0"/>
<circle cx="599.4" cy="447" r="4.5" fill="#d3d2d1" stroke="none" stroke-width="0"/>
<circle cx="599.4" cy="447" r="2.3" fill="#b3a199" stroke="none" stroke-width="0"/>
<circle cx="640.6" cy="447.5" r="4.5" fill="#d3d2d1" stroke="none" stroke-width="0"/>
<circle cx="640.6" cy="447.5" r="2.3" fill="#b3a199" stroke="none" stroke-width="0"/>
<circle cx="652" cy="447.5" r="4.5" fill="#d3d2d1" stroke="none" stroke-width="0"/>
<circle cx="652" cy="447.5" r="2.3" fill="#b3a199" stroke="none" stroke-width="0"/>
<circle cx="517" cy="457" r="4.5" fill="#d3d2d1" stroke="none" stroke-width="0"/>
<circle cx="517" cy="457" r="2.3" fill="#b3a199" stroke="none" stroke-width="0"/>
<circle cx="540.6" cy="466" r="4.5" fill="#d3d2d1" stroke="none" stroke-width="0"/>
<circle cx="540.6" cy="466" r="2.3" fill="#b3a199" stroke="none" stroke-width="0"/>
<circle cx="500" cy="483" r="4.5" fill="#d3d2d1" stroke="none" stroke-width="0"/>
<circle cx="500" cy="483" r="2.3" fill="#b3a199" stroke="none" stroke-width="0"/>
<circle cx="537.5" cy="487.6" r="4.5" fill="#d3d2d1" stroke="none" stroke-width="0"/>
<circle cx="537.5" cy="487.6" r="2.3" fill="#b3a199" stroke="none" stroke-width="0"/>
<circle cx="517.25" cy="545.4" r="4.5" fill="#d3d2d1" stroke="none" stroke-width="0"/>
<circle cx="517.25" cy="545.4" r="2.3" fill="#b3a199" stroke="none" stroke-width="0"/>
<circle cx="551.25" cy="537.5" r="4.5" fill="#d3d2d1" stroke="none" stroke-width="0"/>
<circle cx="551.25" cy="537.5" r="2.3" fill="#b3a199" stroke="none" stroke-width="0"/>
<circle cx="572.5" cy="533" r="4.5" fill="#d3d2d1" stroke="none" stroke-width="0"/>
<circle cx="572.5" cy="533" r="2.3" fill="#b3a199" stroke="none" stroke-width="0"/>
<circle cx="595" cy="545.6" r="4.5" fill="#d3d2d1" stroke="none" stroke-width="0"/>
<circle cx="595" cy="545.6" r="2.3" fill="#b3a199" stroke="none" stroke-width="0"/>
<circle cx="604.4" cy="523.5" r="4.5" fill="#d3d2d1" stroke="none" stroke-width="0"/>
<circle cx="604.4" cy="523.5" r="2.3" fill="#b3a199" stroke="none" stroke-width="0"/>
<circle cx="616" cy="523.5" r="4.5" fill="#d3d2d1" stroke="none" stroke-width="0"/>
<circle cx="616" cy="523.5" r="2.3" fill="#b3a199" stroke="none" stroke-width="0"/>
<circle cx="627" cy="523.5" r="4.5" fill="#d3d2d1" stroke="none" stroke-width="0"/>
<circle cx="627" cy="523.5" r="2.3" fill="#b3a199" stroke="none" stroke-width="0"/>
<circle cx="637.75" cy="523.5" r="4.5" fill="#d3d2d1" stroke="none" stroke-width="0"/>
<circle cx="637.75" cy="523.5" r="2.3" fill="#b3a199" stroke="none" stroke-width="0"/>
<circle cx="615" cy="511.25" r="4.5" fill="#d3d2d1" stroke="none" stroke-width="0"/>
<circle cx="615" cy="511.25" r="2.3" fill="#b3a199" stroke="none" stroke-width="0"/>
<circle cx="627" cy="511.25" r="4.5" fill="#d3d2d1" stroke="none" stroke-width="0"/>
<circle cx="627" cy="511.25" r="2.3" fill="#b3a199" stroke="none" stroke-width="0"/>
<circle cx="637.75" cy="511.25" r="4.5" fill="#d3d2d1" stroke="none" stroke-width="0"/>
<circle cx="637.75" cy="511.25" r="2.3" fill="#b3a199" stroke="none" stroke-width="0"/>
<circle cx="627" cy="499.4" r="4.5" fill="#d3d2d1" stroke="none" stroke-width="0"/>
<circle cx="627" cy="499.4" r="2.3" fill="#b3a199" stroke="none" stroke-width="0"/>
<circle cx="637.75" cy="499.4" r="4.5" fill="#d3d2d1" stroke="none" stroke-width="0"/>
<circle cx="637.75" cy="499.4" r="2.3" fill="#b3a199" stroke="none" stroke-width="0"/>
<circle cx="627" cy="489.4" r="4.5" fill="#d3d2d1" stroke="none" stroke-width="0"/>
<circle cx="627" cy="489.4" r="2.3" fill="#b3a199" stroke="none" stroke-width="0"/>
<circle cx="637.75" cy="489.4" r="4.5" fill="#d3d2d1" stroke="none" stroke-width="0"/>
<circle cx="637.75" cy="489.4" r="2.3" fill="#b3a199" stroke="none" stroke-width="0"/>
<circle cx="629.4" cy="489.4" r="4.5" fill="#d3d2d1" stroke="none" stroke-width="0"/>
<circle cx="629.4" cy="489.4" r="2.3" fill="#b3a199" stroke="none" stroke-width="0"/>
<circle cx="640.6" cy="489.4" r="4.5" fill="#d3d2d1" stroke="none" stroke-width="0"/>
<circle cx="640.6" cy="489.4" r="2.3" fill="#b3a199" stroke="none" stroke-width="0"/>
<circle cx="652" cy="489.4" r="4.5" fill="#d3d2d1" stroke="none" stroke-width="0"/>
<circle cx="652" cy="489.4" r="2.3" fill="#b3a199" stroke="none" stroke-width="0"/>
<circle cx="661" cy="489.4" r="4.5" fill="#d3d2d1" stroke="none" stroke-width="0"/>
<circle cx="661" cy="489.4" r="2.3" fill="#b3a199" stroke="none" stroke-width="0"/>
<circle cx="626" cy="500" r="4.5" fill="#d3d2d1" stroke="none" stroke-width="0"/>
<circle cx="626" cy="500" r="2.3" fill="#b3a199" stroke="none" stroke-width="0"/>
<circle cx="637.5" cy="500" r="4.5" fill="#d3d2d1" stroke="none" stroke-width="0"/>
<circle cx="637.5" cy="500" r="2.3" fill="#b3a199" stroke="none" stroke-width="0"/>
<circle cx="648.75" cy="500" r="4.5" fill="#d3d2d1" stroke="none" stroke-width="0"/>
<circle cx="648.75" cy="500" r="2.3" fill="#b3a199" stroke="none" stroke-width="0"/>
<circle cx="659.4" cy="500" r="4.5" fill="#d3d2d1" stroke="none" stroke-width="0"/>
<circle cx="659.4" cy="500" r="2.3" fill="#b3a199" stroke="none" stroke-width="0"/>
<circle cx="670" cy="500" r="4.5" fill="#d3d2d1" stroke="none" stroke-width="0"/>
<circle cx="670" cy="500" r="2.3" fill="#b3a199" stroke="none" stroke-width="0"/>
<circle cx="626" cy="511.25" r="4.5" fill="#d3d2d1" stroke="none" stroke-width="0"/>
<circle cx="626" cy="511.25" r="2.3" fill="#b3a199" stroke="none" stroke-width="0"/>
<circle cx="637.5" cy="511.25" r="4.5" fill="#d3d2d1" stroke="none" stroke-width="0"/>
<circle cx="637.5" cy="511.25" r="2.3" fill="#b3a199" stroke="none" stroke-width="0"/>
<circle cx="648.75" cy="511.25" r="4.5" fill="#d3d2d1" stroke="none" stroke-width="0"/>
<circle cx="648.75" cy="511.25" r="2.3" fill="#b3a199" stroke="none" stroke-width="0"/>
<circle cx="659.4" cy="511.25" r="4.5" fill="#d3d2d1" stroke="none" stroke-width="0"/>
<circle cx="659.4" cy="511.25" r="2.3" fill="#b3a199" stroke="none" stroke-width="0"/>
<circle cx="670" cy="511.25" r="4.5" fill="#d3d2d1" stroke="none" stroke-width="0"/>
<circle cx="670" cy="511.25" r="2.3" fill="#b3a199" stroke="none" stroke-width="0"/>
<circle cx="626" cy="522.5" r="4.5" fill="#d3d2d1" stroke="none" stroke-width="0"/>
<circle cx="626" cy="522.5" r="2.3" fill="#b3a199" stroke="none" stroke-width="0"/>
<circle cx="637.5" cy="522.5" r="4.5" fill="#d3d2d1" stroke="none" stroke-width="0"/>
<circle cx="637.5" cy="522.5" r="2.3" fill="#b3a199" stroke="none" stroke-width="0"/>
<circle cx="648.75" cy="522.5" r="4.5" fill="#d3d2d1" stroke="none" stroke-width="0"/>
<circle cx="648.75" cy="522.5" r="2.3" fill="#b3a199" stroke="none" stroke-width="0"/>
<circle cx="659.4" cy="522.5" r="4.5" fill="#d3d2d1" stroke="none" stroke-width="0"/>
<circle cx="659.4" cy="522.5" r="2.3" fill="#b3a199" stroke="none" stroke-width="0"/>
<circle cx="670" cy="522.5" r="4.5" fill="#d3d2d1" stroke="none" stroke-width="0"/>
<circle cx="670" cy="522.5" r="2.3" fill="#b3a199" stroke="none" stroke-width="0"/>
<circle cx="669.75" cy="545.6" r="4.5" fill="#d3d2d1" stroke="none" stroke-width="0"/>
<circle cx="669.75" cy="545.6" r="2.3" fill="#b3a199" stroke="none" stroke-width="0"/>
<circle cx="742" cy="443.5" r="4.5" fill="#d3d2d1" stroke="none" stroke-width="0"/>
<circle cx="742" cy="443.5" r="2.3" fill="#b3a199" stroke="none" stroke-width="0"/>
<circle cx="752" cy="443.5" r="4.5" fill="#d3d2d1" stroke="none" stroke-width="0"/>
<circle cx="752" cy="443.5" r="2.3" fill="#b3a199" stroke="none" stroke-width="0"/>
<circle cx="742" cy="454.4" r="4.5" fill="#d3d2d1" stroke="none" stroke-width="0"/>
<circle cx="742" cy="454.4" r="2.3" fill="#b3a199" stroke="none" stroke-width="0"/>
<circle cx="752" cy="454.4" r="4.5" fill="#d3d2d1" stroke="none" stroke-width="0"/>
<circle cx="752" cy="454.4" r="2.3" fill="#b3a199" stroke="none" stroke-width="0"/>
<circle cx="742" cy="465.4" r="4.5" fill="#d3d2d1" stroke="none" stroke-width="0"/>
<circle cx="742" cy="465.4" r="2.3" fill="#b3a199" stroke="none" stroke-width="0"/>
<circle cx="752" cy="465.4" r="4.5" fill="#d3d2d1" stroke="none" stroke-width="0"/>
<circle cx="752" cy="465.4" r="2.3" fill="#b3a199" stroke="none" stroke-width="0"/>
<circle cx="762.5" cy="474.4" r="4.5" fill="#d3d2d1" stroke="none" stroke-width="0"/>
<circle cx="762.5" cy="474.4" r="2.3" fill="#b3a199" stroke="none" stroke-width="0"/>
<circle cx="772.5" cy="474.4" r="4.5" fill="#d3d2d1" stroke="none" stroke-width="0"/>
<circle cx="772.5" cy="474.4" r="2.3" fill="#b3a199" stroke="none" stroke-width="0"/>
<circle cx="761" cy="436" r="4.5" fill="#d3d2d1" stroke="none" stroke-width="0"/>
<circle cx="761" cy="436" r="2.3" fill="#b3a199" stroke="none" stroke-width="0"/>
<circle cx="772" cy="436" r="4.5" fill="#d3d2d1" stroke="none" stroke-width="0"/>
<circle cx="772" cy="436" r="2.3" fill="#b3a199" stroke="none" stroke-width="0"/>
<circle cx="775.7" cy="484.5" r="4.5" fill="#d3d2d1" stroke="none" stroke-width="0"/>
<circle cx="775.7" cy="484.5" r="2.3" fill="#b3a199" stroke="none" stroke-width="0"/>
<circle cx="804.4" cy="473.3" r="4.5" fill="#d3d2d1" stroke="none" stroke-width="0"/>
<circle cx="804.4" cy="473.3" r="2.3" fill="#b3a199" stroke="none" stroke-width="0"/>
<circle cx="804.4" cy="501" r="4.5" fill="#d3d2d1" stroke="none" stroke-width="0"/>
<circle cx="804.4" cy="501" r="2.3" fill="#b3a199" stroke="none" stroke-width="0"/>
<circle cx="775.7" cy="520" r="4.5" fill="#d3d2d1" stroke="none" stroke-width="0"/>
<circle cx="775.7" cy="520" r="2.3" fill="#b3a199" stroke="none" stroke-width="0"/>
<circle cx="742" cy="535" r="4.5" fill="#d3d2d1" stroke="none" stroke-width="0"/>
<circle cx="742" cy="535" r="2.3" fill="#b3a199" stroke="none" stroke-width="0"/>
<circle cx="705.6" cy="572.75" r="4.5" fill="#d3d2d1" stroke="none" stroke-width="0"/>
<circle cx="705.6" cy="572.75" r="2.3" fill="#b3a199" stroke="none" stroke-width="0"/>
<circle cx="740.6" cy="571.5" r="4.5" fill="#d3d2d1" stroke="none" stroke-width="0"/>
<circle cx="740.6" cy="571.5" r="2.3" fill="#b3a199" stroke="none" stroke-width="0"/>
<circle cx="783" cy="557" r="4.5" fill="#d3d2d1" stroke="none" stroke-width="0"/>
<circle cx="783" cy="557" r="2.3" fill="#b3a199" stroke="none" stroke-width="0"/>
<circle cx="803" cy="500.6" r="4.5" fill="#d3d2d1" stroke="none" stroke-width="0"/>
<circle cx="803" cy="500.6" r="2.3" fill="#b3a199" stroke="none" stroke-width="0"/>
<circle cx="577.5" cy="447" r="5" fill="#6d7075" stroke="none" stroke-width="0"/>
<circle cx="553.75" cy="464" r="5" fill="#6d7075" stroke="none" stroke-width="0"/>
<circle cx="530.8" cy="540.6" r="5" fill="#6d7075" stroke="none" stroke-width="0"/>
<rect x="610.25" y="436" width="10.35" height="9" fill="#64676c"/>
<rect x="563.5" y="457.25" width="12.5" height="13.35" fill="#64676c"/>
<rect x="584.75" y="457.25" width="12.75" height="13.35" fill="#64676c"/>
<rect x="610.25" y="456.25" width="10.35" height="9.35" fill="#64676c"/>
<rect x="610.25" y="476.25" width="10.35" height="9.35" fill="#64676c"/>
<rect x="610.25" y="496.6" width="10.35" height="9.4" fill="#64676c"/>
<rect x="524.4" y="497.25" width="13.5" height="12.5" fill="#64676c"/>
<rect x="544.6" y="497.25" width="13.4" height="12.5" fill="#64676c"/>
<rect x="524.4" y="518" width="13.5" height="12.6" fill="#64676c"/>
<rect x="544.6" y="518" width="13.4" height="12.6" fill="#64676c"/>
<rect x="644" y="455.6" width="13" height="23.8" fill="#64676c"/>
<rect x="678" y="461.25" width="10.5" height="6.5" fill="#64676c"/>
<rect x="678" y="476.25" width="10.5" height="6.75" fill="#64676c"/>
<rect x="680.4" y="488.4" width="13.35" height="12.2" fill="#64676c"/>
<rect x="680.4" y="509.2" width="13.35" height="12.2" fill="#64676c"/>
<rect x="680.4" y="526.25" width="13.6" height="12.5" fill="#64676c"/>
<rect x="680.4" y="547.25" width="13.6" height="12.75" fill="#64676c"/>
<rect x="698.75" y="530.4" width="13.25" height="13.35" fill="#64676c"/>
<rect x="719.6" y="530.4" width="13.4" height="13.35" fill="#64676c"/>
<rect x="698.75" y="550.6" width="13.25" height="13.15" fill="#64676c"/>
<rect x="719.6" y="550.6" width="13.4" height="13.15" fill="#64676c"/>
<rect x="717.25" y="481.25" width="15.75" height="15" fill="#64676c"/>
<rect x="741.25" y="481.25" width="15.75" height="15" fill="#64676c"/>
<rect x="717.25" y="505.25" width="15.75" height="14.75" fill="#64676c"/>
<rect x="741.25" y="505.25" width="15.75" height="14.75" fill="#64676c"/>
<rect x="632.75" y="454.4" width="7.25" height="3.6" fill="#7a7d82"/>
<rect x="661.25" y="454.4" width="6.75" height="3.6" fill="#7a7d82"/>
<rect x="632.75" y="461.8" width="7.25" height="3.6" fill="#7a7d82"/>
<rect x="661.25" y="461.8" width="6.75" height="3.6" fill="#7a7d82"/>
<rect x="632.75" y="469.3" width="7.25" height="3.6" fill="#7a7d82"/>
<rect x="661.25" y="469.3" width="6.75" height="3.6" fill="#7a7d82"/>
<rect x="632.75" y="477" width="7.25" height="3.6" fill="#7a7d82"/>
<rect x="661.25" y="477" width="6.75" height="3.6" fill="#7a7d82"/>
<path d="M635 446.5 L666 446.5" fill="none" stroke="#231f20" stroke-width="1.5" stroke-linejoin="miter" stroke-linecap="butt"/>
<path d="M635 488.5 L666 488.5" fill="none" stroke="#231f20" stroke-width="1.5" stroke-linejoin="miter" stroke-linecap="butt"/>
<circle cx="628" cy="447" r="3.7" fill="#231f20" stroke="none" stroke-width="0"/>
<rect x="578.1" y="458" width="4.6" height="2.4" rx="1.2" fill="#231f20"/>
<rect x="578.1" y="467.5" width="4.6" height="2.4" rx="1.2" fill="#231f20"/>
<rect x="524.8" y="511.9" width="2.4" height="4.6" rx="1.2" fill="#231f20"/>
<rect x="534.4" y="511.9" width="2.4" height="4.6" rx="1.2" fill="#231f20"/>
<rect x="545.05" y="511.9" width="2.4" height="4.6" rx="1.2" fill="#231f20"/>
<rect x="555.05" y="511.9" width="2.4" height="4.6" rx="1.2" fill="#231f20"/>
<rect x="681.55" y="502.7" width="2.4" height="4.6" rx="1.2" fill="#231f20"/>
<rect x="690.8" y="502.7" width="2.4" height="4.6" rx="1.2" fill="#231f20"/>
<rect x="681.3" y="540.7" width="2.4" height="4.6" rx="1.2" fill="#231f20"/>
<rect x="691.05" y="540.7" width="2.4" height="4.6" rx="1.2" fill="#231f20"/>
<rect x="713.3" y="531.1" width="4.6" height="2.4" rx="1.2" fill="#231f20"/>
<rect x="713.3" y="540.8" width="4.6" height="2.4" rx="1.2" fill="#231f20"/>
<rect x="713.3" y="551.3" width="4.6" height="2.4" rx="1.2" fill="#231f20"/>
<rect x="713.3" y="561" width="4.6" height="2.4" rx="1.2" fill="#231f20"/>
<path d="M724.4 478 L714.4 478 L714.4 499 L724.4 499" fill="none" stroke="#231f20" stroke-width="2.2" stroke-linejoin="miter" stroke-linecap="butt"/>
<path d="M750 478 L760 478 L760 499 L750 499" fill="none" stroke="#231f20" stroke-width="2.2" stroke-linejoin="miter" stroke-linecap="butt"/>
<path d="M724.4 502 L714.4 502 L714.4 523 L724.4 523" fill="none" stroke="#231f20" stroke-width="2.2" stroke-linejoin="miter" stroke-linecap="butt"/>
<path d="M750 502 L760 502 L760 523 L750 523" fill="none" stroke="#231f20" stroke-width="2.2" stroke-linejoin="miter" stroke-linecap="butt"/>
<text x="130.62" y="170.50" font-family='"Liberation Sans", sans-serif' font-size="18.17" textLength="19.20" lengthAdjust="spacingAndGlyphs" fill="#231f20" stroke="#231f20" stroke-width="0.45">L1</text>
<text x="187.24" y="267.50" font-family='"Liberation Sans", sans-serif' font-size="18.17" textLength="19.50" lengthAdjust="spacingAndGlyphs" fill="#231f20" stroke="#231f20" stroke-width="0.45">C1</text>
<text x="411.11" y="270.00" font-family='"Liberation Sans", sans-serif' font-size="17.44" textLength="22.65" lengthAdjust="spacingAndGlyphs" fill="#231f20" stroke="#231f20" stroke-width="0.45">C8</text>
<text x="328.48" y="342.00" font-family='"Liberation Sans", sans-serif' font-size="18.90" textLength="24.35" lengthAdjust="spacingAndGlyphs" fill="#231f20" stroke="#231f20" stroke-width="0.45">R5</text>
<text x="28.97" y="337.20" font-family='"Liberation Sans", sans-serif' font-size="19.48" textLength="29.84" lengthAdjust="spacingAndGlyphs" fill="#231f20" stroke="#231f20" stroke-width="0.45">TP1</text>
<text x="142.18" y="337.20" font-family='"Liberation Sans", sans-serif' font-size="19.48" textLength="68.82" lengthAdjust="spacingAndGlyphs" fill="#231f20" stroke="#231f20" stroke-width="0.45">PWR_IN</text>
<text x="58.59" y="425.60" font-family='"Liberation Sans", sans-serif' font-size="19.19" textLength="68.40" lengthAdjust="spacingAndGlyphs" fill="#231f20" stroke="#231f20" stroke-width="0.45">PWR_IN</text>
<text x="76.22" y="621.60" font-family='"Liberation Sans", sans-serif' font-size="19.04" textLength="34.51" lengthAdjust="spacingAndGlyphs" fill="#231f20" stroke="#231f20" stroke-width="0.45">GND</text>
<text x="152.73" y="627.00" font-family='"Liberation Sans", sans-serif' font-size="18.90" textLength="19.11" lengthAdjust="spacingAndGlyphs" fill="#231f20" stroke="#231f20" stroke-width="0.45">J1</text>
<text x="28.64" y="690.00" font-family='"Liberation Sans", sans-serif' font-size="18.90" textLength="32.64" lengthAdjust="spacingAndGlyphs" fill="#231f20" stroke="#231f20" stroke-width="0.45">TP7</text>
<text x="144.71" y="710.00" font-family='"Liberation Sans", sans-serif' font-size="19.62" textLength="35.03" lengthAdjust="spacingAndGlyphs" fill="#231f20" stroke="#231f20" stroke-width="0.45">GND</text>
<text x="304.65" y="708.00" font-family='"Liberation Sans", sans-serif' font-size="18.90" textLength="32.03" lengthAdjust="spacingAndGlyphs" fill="#231f20" stroke="#231f20" stroke-width="0.45">TP6</text>
<text x="420.44" y="708.00" font-family='"Liberation Sans", sans-serif' font-size="18.90" textLength="66.10" lengthAdjust="spacingAndGlyphs" fill="#231f20" stroke="#231f20" stroke-width="0.45">DIM_IN</text>
<text x="576.63" y="708.00" font-family='"Liberation Sans", sans-serif' font-size="18.90" textLength="34.10" lengthAdjust="spacingAndGlyphs" fill="#231f20" stroke="#231f20" stroke-width="0.45">TP3</text>
<text x="699.22" y="710.00" font-family='"Liberation Sans", sans-serif' font-size="19.62" textLength="34.51" lengthAdjust="spacingAndGlyphs" fill="#231f20" stroke="#231f20" stroke-width="0.45">GND</text>
<text x="812.15" y="708.00" font-family='"Liberation Sans", sans-serif' font-size="18.90" textLength="32.24" lengthAdjust="spacingAndGlyphs" fill="#231f20" stroke="#231f20" stroke-width="0.45">TP8</text>
<text x="928.22" y="710.00" font-family='"Liberation Sans", sans-serif' font-size="19.62" textLength="34.51" lengthAdjust="spacingAndGlyphs" fill="#231f20" stroke="#231f20" stroke-width="0.45">GND</text>
<text x="1027.64" y="708.00" font-family='"Liberation Sans", sans-serif' font-size="18.90" textLength="33.06" lengthAdjust="spacingAndGlyphs" fill="#231f20" stroke="#231f20" stroke-width="0.45">TP5</text>
<text x="1085.25" y="660.00" font-family='"Liberation Sans", sans-serif' font-size="18.90" textLength="33.46" lengthAdjust="spacingAndGlyphs" fill="#231f20" stroke="#231f20" stroke-width="0.45">GND</text>
<text x="1035.68" y="629.00" font-family='"Liberation Sans", sans-serif' font-size="18.90" textLength="22.18" lengthAdjust="spacingAndGlyphs" fill="#231f20" stroke="#231f20" stroke-width="0.45">J3</text>
<text x="1096.71" y="631.00" font-family='"Liberation Sans", sans-serif' font-size="18.90" textLength="35.03" lengthAdjust="spacingAndGlyphs" fill="#231f20" stroke="#231f20" stroke-width="0.45">GND</text>
<text x="1096.27" y="439.30" font-family='"Liberation Sans", sans-serif' font-size="18.46" textLength="45.32" lengthAdjust="spacingAndGlyphs" fill="#231f20" stroke="#231f20" stroke-width="0.45">LED+</text>
<text x="1083.53" y="396.00" font-family='"Liberation Sans", sans-serif' font-size="18.90" textLength="46.37" lengthAdjust="spacingAndGlyphs" fill="#231f20" stroke="#231f20" stroke-width="0.45">LED+</text>
<text x="1027.65" y="348.00" font-family='"Liberation Sans", sans-serif' font-size="18.90" textLength="32.27" lengthAdjust="spacingAndGlyphs" fill="#231f20" stroke="#231f20" stroke-width="0.45">TP4</text>
<text x="1035.29" y="252.40" font-family='"Liberation Sans", sans-serif' font-size="18.90" textLength="21.65" lengthAdjust="spacingAndGlyphs" fill="#231f20" stroke="#231f20" stroke-width="0.45">J2</text>
<text x="1096.43" y="253.30" font-family='"Liberation Sans", sans-serif' font-size="18.60" textLength="46.48" lengthAdjust="spacingAndGlyphs" fill="#231f20" stroke="#231f20" stroke-width="0.45">LED+</text>
<text x="1097.90" y="62.80" font-family='"Liberation Sans", sans-serif' font-size="18.31" textLength="32.61" lengthAdjust="spacingAndGlyphs" fill="#231f20" stroke="#231f20" stroke-width="0.45">VIN</text>
<text x="809.14" y="99.90" font-family='"Liberation Sans", sans-serif' font-size="18.75" textLength="33.47" lengthAdjust="spacingAndGlyphs" fill="#231f20" stroke="#231f20" stroke-width="0.45">TP2</text>
<text x="929.80" y="99.90" font-family='"Liberation Sans", sans-serif' font-size="18.75" textLength="33.13" lengthAdjust="spacingAndGlyphs" fill="#231f20" stroke="#231f20" stroke-width="0.45">VIN</text>
<text x="678.28" y="321.00" font-family='"Liberation Sans", sans-serif' font-size="18.90" textLength="19.45" lengthAdjust="spacingAndGlyphs" fill="#231f20" stroke="#231f20" stroke-width="0.45">D1</text>
<text x="778.59" y="282.50" font-family='"Liberation Sans", sans-serif' font-size="16.72" textLength="23.19" lengthAdjust="spacingAndGlyphs" fill="#231f20" stroke="#231f20" stroke-width="0.45">C3</text>
<text x="778.00" y="396.00" font-family='"Liberation Sans", sans-serif' font-size="17.44" textLength="23.90" lengthAdjust="spacingAndGlyphs" fill="#231f20" stroke="#231f20" stroke-width="0.45">R2</text>
<text x="494.25" y="426.00" font-family='"Liberation Sans", sans-serif' font-size="17.44" textLength="24.28" lengthAdjust="spacingAndGlyphs" fill="#231f20" stroke="#231f20" stroke-width="0.45">L2</text>
<text x="480.14" y="215.00" font-family='"Liberation Sans", sans-serif' font-size="17.44" textLength="31.54" lengthAdjust="spacingAndGlyphs" fill="#231f20" stroke="#231f20" stroke-width="0.45">C13</text>
<text x="480.15" y="235.00" font-family='"Liberation Sans", sans-serif' font-size="17.44" textLength="31.27" lengthAdjust="spacingAndGlyphs" fill="#231f20" stroke="#231f20" stroke-width="0.45">C14</text>
<text x="505.98" y="471.00" font-family='"Liberation Sans", sans-serif' font-size="16.72" textLength="24.35" lengthAdjust="spacingAndGlyphs" fill="#231f20" stroke="#231f20" stroke-width="0.45">R3</text>
<text x="633.96" y="507.70" font-family='"Liberation Sans", sans-serif' font-size="17.01" textLength="17.71" lengthAdjust="spacingAndGlyphs" fill="#231f20" stroke="#231f20" stroke-width="0.45">U1</text>
<text x="764.61" y="498.50" font-family='"Liberation Sans", sans-serif' font-size="17.15" textLength="22.14" lengthAdjust="spacingAndGlyphs" fill="#231f20" stroke="#231f20" stroke-width="0.45">R6</text>
<text x="764.68" y="521.50" font-family='"Liberation Sans", sans-serif' font-size="17.15" textLength="21.12" lengthAdjust="spacingAndGlyphs" fill="#231f20" stroke="#231f20" stroke-width="0.45">R7</text>
<text x="736.05" y="544.00" font-family='"Liberation Sans", sans-serif' font-size="18.90" textLength="23.24" lengthAdjust="spacingAndGlyphs" fill="#231f20" stroke="#231f20" stroke-width="0.45">R8</text>
<text x="735.56" y="564.00" font-family='"Liberation Sans", sans-serif' font-size="18.90" textLength="33.06" lengthAdjust="spacingAndGlyphs" fill="#231f20" stroke="#231f20" stroke-width="0.45">R10</text>
<text transform="translate(476.00 119.00) rotate(-90)" x="-0.78" y="0" font-family='"Liberation Sans", sans-serif' font-size="20.35" textLength="27.49" lengthAdjust="spacingAndGlyphs" fill="#231f20" stroke="#231f20" stroke-width="0.45">C11</text>
<text transform="translate(521.00 119.00) rotate(-90)" x="-0.92" y="0" font-family='"Liberation Sans", sans-serif' font-size="20.35" textLength="33.74" lengthAdjust="spacingAndGlyphs" fill="#231f20" stroke="#231f20" stroke-width="0.45">C12</text>
<text transform="translate(825.50 414.00) rotate(-90)" x="-0.86" y="0" font-family='"Liberation Sans", sans-serif' font-size="19.62" textLength="31.54" lengthAdjust="spacingAndGlyphs" fill="#231f20" stroke="#231f20" stroke-width="0.45">C15</text>
<text transform="translate(761.00 412.50) rotate(-90)" x="-0.85" y="0" font-family='"Liberation Sans", sans-serif' font-size="19.62" textLength="21.67" lengthAdjust="spacingAndGlyphs" fill="#231f20" stroke="#231f20" stroke-width="0.45">C9</text>
<text transform="translate(882.00 460.00) rotate(-90)" x="-0.86" y="0" font-family='"Liberation Sans", sans-serif' font-size="21.08" textLength="31.54" lengthAdjust="spacingAndGlyphs" fill="#231f20" stroke="#231f20" stroke-width="0.45">C16</text>
<text transform="translate(927.50 460.00) rotate(-90)" x="-0.86" y="0" font-family='"Liberation Sans", sans-serif' font-size="21.08" textLength="31.63" lengthAdjust="spacingAndGlyphs" fill="#231f20" stroke="#231f20" stroke-width="0.45">C17</text>
<text transform="translate(972.00 460.00) rotate(-90)" x="-0.86" y="0" font-family='"Liberation Sans", sans-serif' font-size="21.08" textLength="31.54" lengthAdjust="spacingAndGlyphs" fill="#231f20" stroke="#231f20" stroke-width="0.45">C18</text>
<text transform="translate(547.00 471.00) rotate(-90)" x="-0.82" y="0" font-family='"Liberation Sans", sans-serif' font-size="19.26" textLength="30.05" lengthAdjust="spacingAndGlyphs" fill="#231f20" stroke="#231f20" stroke-width="0.45">C19</text>
<text transform="translate(519.00 529.00) rotate(-90)" x="-1.38" y="0" font-family='"Liberation Sans", sans-serif' font-size="18.90" textLength="31.56" lengthAdjust="spacingAndGlyphs" fill="#231f20" stroke="#231f20" stroke-width="0.45">R13</text>
<text transform="translate(558.00 568.00) rotate(-90)" x="-1.36" y="0" font-family='"Liberation Sans", sans-serif' font-size="18.90" textLength="31.28" lengthAdjust="spacingAndGlyphs" fill="#231f20" stroke="#231f20" stroke-width="0.45">R14</text>
<text transform="translate(627.00 543.00) rotate(-90)" x="-0.93" y="0" font-family='"Liberation Sans", sans-serif' font-size="20.35" textLength="34.07" lengthAdjust="spacingAndGlyphs" fill="#231f20" stroke="#231f20" stroke-width="0.45">C20</text>
<text transform="translate(676.00 515.80) rotate(-90)" x="-1.41" y="0" font-family='"Liberation Sans", sans-serif' font-size="18.31" textLength="22.45" lengthAdjust="spacingAndGlyphs" fill="#231f20" stroke="#231f20" stroke-width="0.45">R9</text>
<text transform="translate(710.00 486.70) rotate(-90)" x="-0.80" y="0" font-family='"Liberation Sans", sans-serif' font-size="19.33" textLength="29.52" lengthAdjust="spacingAndGlyphs" fill="#231f20" stroke="#231f20" stroke-width="0.45">C21</text>
<text transform="translate(676.00 558.90) rotate(-90)" x="-0.95" y="0" font-family='"Liberation Sans", sans-serif' font-size="18.31" textLength="34.69" lengthAdjust="spacingAndGlyphs" fill="#231f20" stroke="#231f20" stroke-width="0.45">C22</text>
<text x="915.60" y="140.50" font-family='"Liberation Mono", monospace' font-size="17.91" textLength="112.09" lengthAdjust="spacingAndGlyphs" fill="#231f20" stroke="#231f20" stroke-width="0.4">Buck-Boost</text>
<text x="915.98" y="159.60" font-family='"Liberation Mono", monospace' font-size="18.21" textLength="111.42" lengthAdjust="spacingAndGlyphs" fill="#231f20" stroke="#231f20" stroke-width="0.4">Connection</text>
<text x="916.37" y="178.20" font-family='"Liberation Mono", monospace' font-size="17.91" textLength="86.64" lengthAdjust="spacingAndGlyphs" fill="#231f20" stroke="#231f20" stroke-width="0.4">Terminal</text>
<text x="915.62" y="197.60" font-family='"Liberation Mono", monospace' font-size="18.21" textLength="55.31" lengthAdjust="spacingAndGlyphs" fill="#231f20" stroke="#231f20" stroke-width="0.4">Block</text>
<text x="918.61" y="507.00" font-family='"Liberation Mono", monospace' font-size="18.21" textLength="55.76" lengthAdjust="spacingAndGlyphs" fill="#231f20" stroke="#231f20" stroke-width="0.4">Boost</text>
<text x="918.98" y="526.00" font-family='"Liberation Mono", monospace' font-size="17.45" textLength="111.62" lengthAdjust="spacingAndGlyphs" fill="#231f20" stroke="#231f20" stroke-width="0.4">Connection</text>
<text x="919.38" y="545.50" font-family='"Liberation Mono", monospace' font-size="17.45" textLength="85.62" lengthAdjust="spacingAndGlyphs" fill="#231f20" stroke="#231f20" stroke-width="0.4">Terminal</text>
<text x="918.64" y="564.50" font-family='"Liberation Mono", monospace' font-size="18.21" textLength="54.27" lengthAdjust="spacingAndGlyphs" fill="#231f20" stroke="#231f20" stroke-width="0.4">Block</text>
<text x="153.15" y="53.00" font-family='"Liberation Mono", monospace' font-size="40.97" textLength="137.03" lengthAdjust="spacingAndGlyphs" fill="#231f20" stroke="#231f20" stroke-width="0.15">DANGER</text>
<text x="313.21" y="53.00" font-family='"Liberation Mono", monospace' font-size="40.97" textLength="89.29" lengthAdjust="spacingAndGlyphs" fill="#231f20" stroke="#231f20" stroke-width="0.15">HIGH</text>
<text x="425.71" y="53.00" font-family='"Liberation Mono", monospace' font-size="40.97" textLength="158.20" lengthAdjust="spacingAndGlyphs" fill="#231f20" stroke="#231f20" stroke-width="0.15">VOLTAGE</text>
<text x="415.95" y="657.00" font-family='"Liberation Mono", monospace' font-size="40.97" textLength="156.88" lengthAdjust="spacingAndGlyphs" fill="#231f20" stroke="#231f20" stroke-width="0.15">CAUTION</text>
<text x="594.16" y="657.00" font-family='"Liberation Mono", monospace' font-size="40.97" textLength="68.18" lengthAdjust="spacingAndGlyphs" fill="#231f20" stroke="#231f20" stroke-width="0.15">HOT</text>
<text x="686.67" y="657.00" font-family='"Liberation Mono", monospace' font-size="40.97" textLength="159.25" lengthAdjust="spacingAndGlyphs" fill="#231f20" stroke="#231f20" stroke-width="0.15">SURFACE</text>
<path d="M117.4 26.7 L76.6 97.3 L158.3 97.3 Z" fill="none" stroke="#231f20" stroke-width="4.6" stroke-linejoin="round" stroke-linecap="butt"/>
<path d="M113.8 51.4 L119.7 51.4 L111.8 70.4 L124.4 67.3 L117.1 85 L119.5 84.3 L114.2 90 L112.8 82.7 L115.1 84.3 L120.4 71.3 L105.1 75.3 Z" fill="#231f20" stroke="none" stroke-width="0" stroke-linejoin="miter" stroke-linecap="butt"/>
<path d="M628 549 L587.2 619.7 L668.9 619.7 Z" fill="none" stroke="#231f20" stroke-width="4.6" stroke-linejoin="round" stroke-linecap="butt"/>
<path d="M618 579.5 C612.5 586 616 592 618.5 596 S621 604 617 608.7" fill="none" stroke="#231f20" stroke-width="1.7" stroke-linecap="round"/>
<path d="M628 579.5 C622.5 586 626 592 628.5 596 S631 604 627 608.7" fill="none" stroke="#231f20" stroke-width="1.7" stroke-linecap="round"/>
<path d="M637.8 579.5 C632.3 586 635.8 592 638.3 596 S640.8 604 636.8 608.7" fill="none" stroke="#231f20" stroke-width="1.7" stroke-linecap="round"/>
<path d="M609 612.7 L646.7 612.7" fill="none" stroke="#231f20" stroke-width="2.2" stroke-linejoin="miter" stroke-linecap="butt"/>
<clipPath id="cec"><rect x="230" y="490" width="45" height="90"/></clipPath>
<clipPath id="cee"><rect x="294" y="490" width="45" height="90"/></clipPath>
<circle cx="272" cy="533" r="32" fill="none" stroke="#231f20" stroke-width="12" clip-path="url(#cec)"/>
<circle cx="336" cy="533" r="32" fill="none" stroke="#231f20" stroke-width="12" clip-path="url(#cee)"/>
<rect x="310" y="527.5" width="22" height="11.5" fill="#231f20"/>
<path d="M368 480 L437 554" fill="none" stroke="#231f20" stroke-width="1.3" stroke-linejoin="miter" stroke-linecap="butt"/>
<path d="M442 479.5 L369.5 554" fill="none" stroke="#231f20" stroke-width="1.3" stroke-linejoin="miter" stroke-linecap="butt"/>
<path d="M389 494 L392.5 544 L419 544 L422.5 494" fill="none" stroke="#231f20" stroke-width="1.5" stroke-linejoin="miter" stroke-linecap="butt"/>
<path d="M385.5 493.3 L425 493.3" fill="none" stroke="#231f20" stroke-width="1.8" stroke-linejoin="miter" stroke-linecap="butt"/>
<path d="M389 492 Q405 481 422 490" fill="none" stroke="#231f20" stroke-width="1.4"/>
<rect x="401" y="485.3" width="10" height="4.5" fill="#9a9b9d" stroke="#231f20" stroke-width="1.2"/>
<circle cx="423" cy="492" r="2.4" fill="#231f20" stroke="none" stroke-width="0"/>
<rect x="419.5" y="497" width="5.5" height="7" fill="none" stroke="#231f20" stroke-width="1.2"/>
<rect x="401" y="505.5" width="11.5" height="3.5" fill="#231f20"/>
<circle cx="417" cy="541" r="4.6" fill="#9a9b9d" stroke="#231f20" stroke-width="1.6"/>
<circle cx="417" cy="541" r="1.8" fill="#231f20" stroke="none" stroke-width="0"/>
<rect x="392" y="544" width="4" height="3" fill="#231f20"/>
<rect x="374" y="569.5" width="60" height="14.5" fill="#231f20"/>
<path d="M589.402 134.98 L604.841 134.98 L604.841 148.127 L634.721 148.127 L634.721 156.394 L636.514 159.88 L638.705 162.371 L638.705 176.315 L632.729 178.307 L626.753 181.793 L622.271 186.275 L619.781 191.255 L619.283 195.737 L620.279 199.721 L619.283 200.916 L614.801 200.219 L609.821 197.729 L605.837 193.745 L602.849 188.765 L599.861 182.789 L596.873 178.805 L593.884 177.311 L591.394 178.307 L588.406 181.295 L585.418 181.793 L582.43 179.801 L579.94 175.817 L578.446 171.833 L574.462 167.351 L571.474 163.367 L569.98 161.076 L589.402 160.378 Z" fill="#231f20" stroke="#231f20" stroke-width="0.6" stroke-linejoin="round" stroke-linecap="butt"/>
<path d="M608.825 146.733 L622.769 146.733 L620.976 156.096 L625.259 156.096 L623.566 163.367 L619.582 163.367 L617.291 175.817 L620.777 176.016 L619.283 183.984 L607.331 182.49 L604.641 180.797 L603.347 177.311 L605.837 163.367 L601.853 163.367 L603.347 156.693 L607.331 156.693 Z" fill="#9a9b9d" stroke="none" stroke-width="0" stroke-linejoin="miter" stroke-linecap="butt"/>
<path d="M612.809 149.124 L618.785 149.124 L613.307 175.02 L607.331 175.02 Z" fill="#231f20" stroke="none" stroke-width="0" stroke-linejoin="miter" stroke-linecap="butt"/>
<path d="M614.502 139.163 L620.578 139.163 L618.984 144.641 L612.809 144.641 Z" fill="#231f20" stroke="none" stroke-width="0" stroke-linejoin="miter" stroke-linecap="butt"/>
<text x="648.43" y="175.70" font-family='"Liberation Serif", serif' font-size="42.29" textLength="27.28" lengthAdjust="spacingAndGlyphs" fill="#231f20" stroke="#231f20" stroke-width="0.8">T</text>
<text x="672.12" y="175.70" font-family='"Liberation Serif", serif' font-size="32.06" textLength="81.29" lengthAdjust="spacingAndGlyphs" fill="#231f20" stroke="#231f20" stroke-width="0.8">EXAS</text>
<text x="655.82" y="209.30" font-family='"Liberation Serif", serif' font-size="42.29" textLength="14.07" lengthAdjust="spacingAndGlyphs" fill="#231f20" stroke="#231f20" stroke-width="0.8">I</text>
<text x="668.37" y="209.30" font-family='"Liberation Serif", serif' font-size="32.52" textLength="221.61" lengthAdjust="spacingAndGlyphs" fill="#231f20" stroke="#231f20" stroke-width="0.8">NSTRUMENTS</text>
</svg>
</body></html>
